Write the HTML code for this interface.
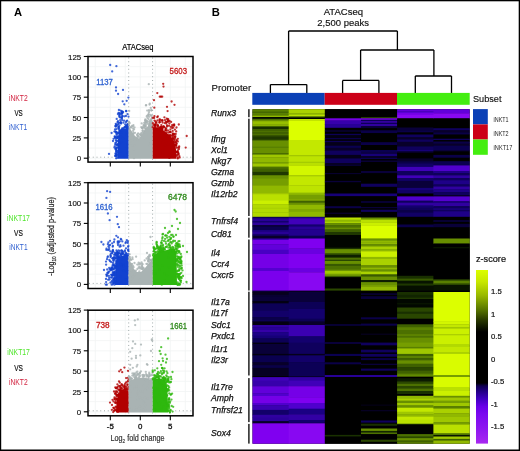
<!DOCTYPE html>
<html><head><meta charset="utf-8"><title>ATACseq figure</title>
<style>html,body{margin:0;padding:0;background:#fff;}svg{display:block;will-change:transform;}text{font-family:"Liberation Sans",sans-serif;}</style>
</head><body>
<svg width="520" height="451" viewBox="0 0 520 451" font-family="Liberation Sans, sans-serif">
<rect x="0" y="0" width="520" height="451" fill="#fff"/>
<text x="14.1" y="16.4" font-size="11.20" fill="#000" font-weight="bold" >A</text>
<text x="122.2" y="49.6" font-size="8.70" fill="#000" textLength="31.2" lengthAdjust="spacingAndGlyphs" stroke="#000" stroke-width="0.2">ATACseq</text>
<g stroke="#f1f4f4" stroke-width="0.8">
<line x1="95.3" y1="56.5" x2="95.3" y2="162.1"/>
<line x1="110.3" y1="56.5" x2="110.3" y2="162.1"/>
<line x1="125.3" y1="56.5" x2="125.3" y2="162.1"/>
<line x1="140.3" y1="56.5" x2="140.3" y2="162.1"/>
<line x1="155.3" y1="56.5" x2="155.3" y2="162.1"/>
<line x1="170.3" y1="56.5" x2="170.3" y2="162.1"/>
<line x1="185.3" y1="56.5" x2="185.3" y2="162.1"/>
<line x1="88.0" y1="158.2" x2="193.0" y2="158.2"/>
<line x1="88.0" y1="148.0" x2="193.0" y2="148.0"/>
<line x1="88.0" y1="137.9" x2="193.0" y2="137.9"/>
<line x1="88.0" y1="127.7" x2="193.0" y2="127.7"/>
<line x1="88.0" y1="117.5" x2="193.0" y2="117.5"/>
<line x1="88.0" y1="107.3" x2="193.0" y2="107.3"/>
<line x1="88.0" y1="97.2" x2="193.0" y2="97.2"/>
<line x1="88.0" y1="87.0" x2="193.0" y2="87.0"/>
<line x1="88.0" y1="76.8" x2="193.0" y2="76.8"/>
<line x1="88.0" y1="66.7" x2="193.0" y2="66.7"/>
<line x1="88.0" y1="56.5" x2="193.0" y2="56.5"/>
</g>
<g stroke="#a0aaaa" stroke-width="1.0" stroke-dasharray="1.0 2.75">
<line x1="128.7" y1="57.5" x2="128.7" y2="161.1"/>
<line x1="152.6" y1="57.5" x2="152.6" y2="161.1"/>
<line x1="89.0" y1="157.2" x2="192.0" y2="157.2"/>
</g>
<polygon points="118.0,158.7 118.0,140.0 118.7,130.0 121.0,129.0 124.0,128.5 128.7,128.0 128.7,158.7" fill="#1242d0"/>
<g fill="#1242d0" fill-opacity="0.80">
<circle cx="127.0" cy="147.6" r="1.15"/>
<circle cx="117.9" cy="144.4" r="1.15"/>
<circle cx="127.2" cy="153.1" r="1.15"/>
<circle cx="116.4" cy="155.9" r="1.15"/>
<circle cx="113.6" cy="138.8" r="1.15"/>
<circle cx="115.3" cy="126.1" r="1.15"/>
<circle cx="117.3" cy="152.6" r="1.15"/>
<circle cx="124.1" cy="157.0" r="1.15"/>
<circle cx="126.8" cy="127.9" r="1.15"/>
<circle cx="118.1" cy="136.8" r="1.15"/>
<circle cx="117.3" cy="137.1" r="1.15"/>
<circle cx="118.0" cy="147.2" r="1.15"/>
<circle cx="116.8" cy="150.4" r="1.15"/>
<circle cx="120.9" cy="136.2" r="1.15"/>
<circle cx="114.4" cy="147.6" r="1.15"/>
<circle cx="114.4" cy="131.6" r="1.15"/>
<circle cx="127.1" cy="126.8" r="1.15"/>
<circle cx="124.7" cy="127.3" r="1.15"/>
<circle cx="116.1" cy="150.9" r="1.15"/>
<circle cx="116.2" cy="148.3" r="1.15"/>
<circle cx="127.2" cy="144.7" r="1.15"/>
<circle cx="116.9" cy="150.7" r="1.15"/>
<circle cx="126.1" cy="125.9" r="1.15"/>
<circle cx="120.2" cy="122.8" r="1.15"/>
<circle cx="117.4" cy="138.0" r="1.15"/>
<circle cx="127.8" cy="127.5" r="1.15"/>
<circle cx="120.9" cy="142.1" r="1.15"/>
<circle cx="117.5" cy="144.5" r="1.15"/>
<circle cx="122.7" cy="128.4" r="1.15"/>
<circle cx="123.6" cy="128.1" r="1.15"/>
<circle cx="116.3" cy="144.6" r="1.15"/>
<circle cx="116.2" cy="154.8" r="1.15"/>
<circle cx="123.0" cy="138.4" r="1.15"/>
<circle cx="126.7" cy="127.9" r="1.15"/>
<circle cx="127.9" cy="124.9" r="1.15"/>
<circle cx="118.3" cy="132.7" r="1.15"/>
<circle cx="127.7" cy="127.9" r="1.15"/>
<circle cx="116.5" cy="129.1" r="1.15"/>
<circle cx="126.3" cy="126.5" r="1.15"/>
<circle cx="121.5" cy="132.4" r="1.15"/>
<circle cx="115.7" cy="149.4" r="1.15"/>
<circle cx="121.9" cy="128.7" r="1.15"/>
<circle cx="115.4" cy="143.0" r="1.15"/>
<circle cx="117.7" cy="145.0" r="1.15"/>
<circle cx="126.9" cy="135.2" r="1.15"/>
<circle cx="115.5" cy="131.3" r="1.15"/>
<circle cx="121.0" cy="151.9" r="1.15"/>
<circle cx="117.3" cy="157.9" r="1.15"/>
<circle cx="116.6" cy="153.6" r="1.15"/>
<circle cx="119.9" cy="132.1" r="1.15"/>
<circle cx="126.4" cy="132.2" r="1.15"/>
<circle cx="118.9" cy="144.0" r="1.15"/>
<circle cx="115.5" cy="137.7" r="1.15"/>
<circle cx="116.4" cy="136.3" r="1.15"/>
<circle cx="118.5" cy="128.6" r="1.15"/>
<circle cx="119.5" cy="130.9" r="1.15"/>
<circle cx="115.2" cy="144.5" r="1.15"/>
<circle cx="116.4" cy="132.2" r="1.15"/>
<circle cx="118.2" cy="133.2" r="1.15"/>
<circle cx="117.9" cy="141.0" r="1.15"/>
<circle cx="125.2" cy="124.4" r="1.15"/>
<circle cx="119.5" cy="114.1" r="1.15"/>
<circle cx="121.5" cy="112.8" r="1.15"/>
<circle cx="124.1" cy="120.7" r="1.15"/>
<circle cx="118.0" cy="121.2" r="1.15"/>
<circle cx="117.5" cy="133.3" r="1.15"/>
<circle cx="115.9" cy="126.7" r="1.15"/>
<circle cx="122.4" cy="116.1" r="1.15"/>
<circle cx="122.2" cy="120.2" r="1.15"/>
<circle cx="126.0" cy="115.9" r="1.15"/>
<circle cx="122.3" cy="113.3" r="1.15"/>
<circle cx="117.8" cy="152.0" r="1.15"/>
<circle cx="122.0" cy="117.7" r="1.15"/>
<circle cx="116.3" cy="142.4" r="1.15"/>
<circle cx="116.8" cy="144.9" r="1.15"/>
<circle cx="120.7" cy="122.7" r="1.15"/>
<circle cx="128.5" cy="116.6" r="1.15"/>
<circle cx="115.0" cy="129.5" r="1.15"/>
<circle cx="121.1" cy="123.6" r="1.15"/>
<circle cx="115.8" cy="123.9" r="1.15"/>
<circle cx="121.0" cy="122.5" r="1.15"/>
<circle cx="115.5" cy="148.8" r="1.15"/>
<circle cx="127.2" cy="120.6" r="1.15"/>
<circle cx="119.5" cy="115.2" r="1.15"/>
<circle cx="116.4" cy="133.8" r="1.15"/>
<circle cx="117.9" cy="124.8" r="1.15"/>
<circle cx="116.5" cy="132.3" r="1.15"/>
<circle cx="115.5" cy="153.5" r="1.15"/>
<circle cx="115.6" cy="155.9" r="1.15"/>
<circle cx="127.7" cy="123.8" r="1.15"/>
<circle cx="116.7" cy="118.9" r="1.15"/>
<circle cx="117.9" cy="114.1" r="1.15"/>
<circle cx="126.2" cy="111.2" r="1.15"/>
<circle cx="126.5" cy="126.5" r="1.15"/>
<circle cx="117.2" cy="138.1" r="1.15"/>
<circle cx="114.7" cy="146.3" r="1.15"/>
<circle cx="119.5" cy="117.1" r="1.15"/>
<circle cx="120.4" cy="117.4" r="1.15"/>
<circle cx="121.9" cy="113.5" r="1.15"/>
<circle cx="118.4" cy="123.7" r="1.15"/>
<circle cx="124.8" cy="126.8" r="1.15"/>
<circle cx="127.9" cy="124.3" r="1.15"/>
<circle cx="119.5" cy="125.4" r="1.15"/>
<circle cx="114.7" cy="136.5" r="1.15"/>
<circle cx="126.4" cy="125.9" r="1.15"/>
<circle cx="116.2" cy="155.6" r="1.15"/>
<circle cx="125.9" cy="122.2" r="1.15"/>
<circle cx="116.1" cy="149.0" r="1.15"/>
<circle cx="116.1" cy="152.0" r="1.15"/>
<circle cx="119.3" cy="113.1" r="1.15"/>
<circle cx="120.2" cy="120.2" r="1.15"/>
<circle cx="115.1" cy="138.0" r="1.15"/>
<circle cx="118.5" cy="113.0" r="1.15"/>
<circle cx="117.5" cy="122.2" r="1.15"/>
<circle cx="118.4" cy="126.8" r="1.15"/>
<circle cx="119.3" cy="116.0" r="1.15"/>
<circle cx="121.5" cy="114.6" r="1.15"/>
<circle cx="115.9" cy="132.3" r="1.15"/>
<circle cx="122.6" cy="116.2" r="1.15"/>
<circle cx="124.6" cy="116.3" r="1.15"/>
<circle cx="119.0" cy="127.1" r="1.15"/>
<circle cx="127.5" cy="114.1" r="1.15"/>
<circle cx="116.1" cy="158.3" r="1.15"/>
<circle cx="117.9" cy="136.5" r="1.15"/>
<circle cx="117.7" cy="156.5" r="1.15"/>
<circle cx="121.6" cy="117.4" r="1.15"/>
<circle cx="114.9" cy="136.9" r="1.15"/>
<circle cx="118.5" cy="127.5" r="1.15"/>
<circle cx="126.6" cy="121.1" r="1.15"/>
<circle cx="128.4" cy="125.8" r="1.15"/>
<circle cx="115.1" cy="155.9" r="1.15"/>
<circle cx="116.2" cy="124.7" r="1.15"/>
<circle cx="117.0" cy="147.9" r="1.15"/>
<circle cx="117.1" cy="154.4" r="1.15"/>
<circle cx="121.8" cy="111.2" r="1.15"/>
<circle cx="123.4" cy="122.7" r="1.15"/>
<circle cx="117.2" cy="154.8" r="1.15"/>
<circle cx="116.8" cy="138.3" r="1.15"/>
<circle cx="115.8" cy="125.9" r="1.15"/>
<circle cx="123.1" cy="112.0" r="1.15"/>
<circle cx="121.8" cy="118.7" r="1.15"/>
<circle cx="116.7" cy="125.4" r="1.15"/>
<circle cx="120.3" cy="113.6" r="1.15"/>
<circle cx="122.6" cy="112.3" r="1.15"/>
<circle cx="118.6" cy="122.8" r="1.15"/>
<circle cx="119.0" cy="129.0" r="1.15"/>
<circle cx="116.3" cy="147.4" r="1.15"/>
<circle cx="124.9" cy="127.3" r="1.15"/>
<circle cx="115.9" cy="140.2" r="1.15"/>
<circle cx="120.4" cy="122.5" r="1.15"/>
<circle cx="122.0" cy="111.8" r="1.15"/>
<circle cx="116.6" cy="141.0" r="1.15"/>
<circle cx="115.7" cy="154.2" r="1.15"/>
<circle cx="116.8" cy="134.7" r="1.15"/>
<circle cx="127.0" cy="125.0" r="1.15"/>
<circle cx="110.2" cy="65.0" r="1.15"/>
<circle cx="116.4" cy="66.2" r="1.15"/>
<circle cx="112.2" cy="71.4" r="1.15"/>
<circle cx="116.0" cy="87.4" r="1.15"/>
<circle cx="116.0" cy="90.7" r="1.15"/>
<circle cx="123.0" cy="89.9" r="1.15"/>
<circle cx="118.1" cy="94.0" r="1.15"/>
<circle cx="128.4" cy="97.6" r="1.15"/>
<circle cx="122.7" cy="101.3" r="1.15"/>
<circle cx="126.7" cy="100.8" r="1.15"/>
<circle cx="124.3" cy="104.3" r="1.15"/>
<circle cx="118.9" cy="110.0" r="1.15"/>
<circle cx="120.5" cy="110.6" r="1.15"/>
<circle cx="126.2" cy="111.0" r="1.15"/>
<circle cx="109.0" cy="153.9" r="1.15"/>
<circle cx="111.6" cy="133.0" r="1.15"/>
<circle cx="113.0" cy="141.0" r="1.15"/>
</g>
<polygon points="128.7,158.7 128.7,126.5 131.0,130.0 133.0,133.3 135.0,136.0 137.0,137.3 139.0,138.6 141.0,136.0 143.0,133.3 145.0,128.0 147.7,126.5 150.4,118.5 152.4,115.8 152.7,158.7" fill="#a9b3b3"/>
<g fill="#a9b3b3" fill-opacity="0.80">
<circle cx="144.9" cy="132.9" r="1.15"/>
<circle cx="145.6" cy="121.1" r="1.15"/>
<circle cx="149.8" cy="145.6" r="1.15"/>
<circle cx="131.3" cy="143.8" r="1.15"/>
<circle cx="148.9" cy="112.6" r="1.15"/>
<circle cx="148.5" cy="119.1" r="1.15"/>
<circle cx="143.4" cy="132.8" r="1.15"/>
<circle cx="135.0" cy="132.8" r="1.15"/>
<circle cx="150.5" cy="143.3" r="1.15"/>
<circle cx="134.1" cy="129.3" r="1.15"/>
<circle cx="133.3" cy="139.1" r="1.15"/>
<circle cx="144.9" cy="138.1" r="1.15"/>
<circle cx="142.4" cy="128.6" r="1.15"/>
<circle cx="144.8" cy="126.2" r="1.15"/>
<circle cx="145.6" cy="126.4" r="1.15"/>
<circle cx="144.3" cy="127.4" r="1.15"/>
<circle cx="130.7" cy="140.2" r="1.15"/>
<circle cx="147.5" cy="117.9" r="1.15"/>
<circle cx="134.0" cy="149.4" r="1.15"/>
<circle cx="130.3" cy="127.4" r="1.15"/>
<circle cx="151.0" cy="142.3" r="1.15"/>
<circle cx="139.2" cy="137.1" r="1.15"/>
<circle cx="132.5" cy="145.8" r="1.15"/>
<circle cx="141.0" cy="135.6" r="1.15"/>
<circle cx="131.9" cy="125.8" r="1.15"/>
<circle cx="141.3" cy="127.2" r="1.15"/>
<circle cx="134.0" cy="158.2" r="1.15"/>
<circle cx="147.0" cy="120.8" r="1.15"/>
<circle cx="151.2" cy="115.8" r="1.15"/>
<circle cx="133.4" cy="125.2" r="1.15"/>
<circle cx="142.5" cy="130.8" r="1.15"/>
<circle cx="137.0" cy="134.9" r="1.15"/>
<circle cx="148.5" cy="114.2" r="1.15"/>
<circle cx="144.6" cy="127.9" r="1.15"/>
<circle cx="138.0" cy="136.0" r="1.15"/>
<circle cx="137.2" cy="139.7" r="1.15"/>
<circle cx="141.7" cy="123.4" r="1.15"/>
<circle cx="143.1" cy="131.6" r="1.15"/>
<circle cx="134.5" cy="127.4" r="1.15"/>
<circle cx="134.3" cy="145.2" r="1.15"/>
<circle cx="129.1" cy="122.4" r="1.15"/>
<circle cx="131.5" cy="127.4" r="1.15"/>
<circle cx="150.6" cy="115.0" r="1.15"/>
<circle cx="142.9" cy="130.3" r="1.15"/>
<circle cx="129.0" cy="125.3" r="1.15"/>
<circle cx="149.1" cy="116.8" r="1.15"/>
<circle cx="138.2" cy="133.3" r="1.15"/>
<circle cx="151.6" cy="115.6" r="1.15"/>
<circle cx="148.2" cy="115.5" r="1.15"/>
<circle cx="149.0" cy="110.1" r="1.15"/>
<circle cx="141.5" cy="132.8" r="1.15"/>
<circle cx="142.1" cy="127.9" r="1.15"/>
<circle cx="146.7" cy="116.3" r="1.15"/>
<circle cx="151.3" cy="110.5" r="1.15"/>
<circle cx="137.8" cy="136.1" r="1.15"/>
<circle cx="145.7" cy="120.2" r="1.15"/>
<circle cx="128.9" cy="123.7" r="1.15"/>
<circle cx="143.8" cy="125.7" r="1.15"/>
<circle cx="143.0" cy="127.2" r="1.15"/>
<circle cx="145.3" cy="122.2" r="1.15"/>
<circle cx="137.7" cy="134.1" r="1.15"/>
<circle cx="140.4" cy="134.7" r="1.15"/>
<circle cx="141.7" cy="134.9" r="1.15"/>
<circle cx="146.0" cy="124.3" r="1.15"/>
<circle cx="140.6" cy="134.5" r="1.15"/>
<circle cx="145.1" cy="120.6" r="1.15"/>
<circle cx="144.5" cy="125.5" r="1.15"/>
<circle cx="148.9" cy="114.8" r="1.15"/>
<circle cx="133.5" cy="133.8" r="1.15"/>
<circle cx="133.4" cy="132.9" r="1.15"/>
<circle cx="146.5" cy="121.7" r="1.15"/>
<circle cx="145.7" cy="125.9" r="1.15"/>
<circle cx="149.1" cy="111.1" r="1.15"/>
<circle cx="144.7" cy="124.0" r="1.15"/>
<circle cx="146.7" cy="121.7" r="1.15"/>
<circle cx="149.7" cy="120.6" r="1.15"/>
<circle cx="142.3" cy="133.5" r="1.15"/>
<circle cx="147.3" cy="115.7" r="1.15"/>
<circle cx="133.1" cy="128.7" r="1.15"/>
<circle cx="149.0" cy="121.8" r="1.15"/>
<circle cx="142.2" cy="128.0" r="1.15"/>
<circle cx="145.3" cy="119.4" r="1.15"/>
<circle cx="137.5" cy="137.2" r="1.15"/>
<circle cx="148.0" cy="123.9" r="1.15"/>
<circle cx="143.6" cy="125.1" r="1.15"/>
<circle cx="140.1" cy="134.5" r="1.15"/>
<circle cx="129.6" cy="123.2" r="1.15"/>
<circle cx="129.0" cy="122.0" r="1.15"/>
<circle cx="133.1" cy="131.0" r="1.15"/>
<circle cx="133.0" cy="126.3" r="1.15"/>
<circle cx="146.0" cy="122.8" r="1.15"/>
<circle cx="130.7" cy="127.3" r="1.15"/>
<circle cx="147.1" cy="122.3" r="1.15"/>
<circle cx="151.4" cy="110.0" r="1.15"/>
<circle cx="144.2" cy="122.8" r="1.15"/>
<circle cx="148.8" cy="84.2" r="1.15"/>
<circle cx="149.5" cy="104.6" r="1.15"/>
<circle cx="145.9" cy="105.4" r="1.15"/>
<circle cx="147.2" cy="110.6" r="1.15"/>
<circle cx="129.2" cy="111.0" r="1.15"/>
<circle cx="150.8" cy="107.9" r="1.15"/>
<circle cx="146.2" cy="105.1" r="1.15"/>
<circle cx="149.8" cy="103.7" r="1.15"/>
</g>
<polygon points="152.7,158.7 152.7,128.0 158.4,128.0 163.8,130.6 170.6,136.0 174.6,142.0 176.0,150.0 176.5,158.7" fill="#b20000"/>
<g fill="#b20000" fill-opacity="0.80">
<circle cx="170.7" cy="132.2" r="1.15"/>
<circle cx="173.6" cy="138.7" r="1.15"/>
<circle cx="171.5" cy="153.8" r="1.15"/>
<circle cx="175.4" cy="145.0" r="1.15"/>
<circle cx="163.3" cy="156.3" r="1.15"/>
<circle cx="177.8" cy="158.4" r="1.15"/>
<circle cx="172.8" cy="133.5" r="1.15"/>
<circle cx="162.5" cy="120.8" r="1.15"/>
<circle cx="165.7" cy="130.6" r="1.15"/>
<circle cx="175.8" cy="142.4" r="1.15"/>
<circle cx="175.7" cy="145.2" r="1.15"/>
<circle cx="158.1" cy="126.0" r="1.15"/>
<circle cx="176.6" cy="152.0" r="1.15"/>
<circle cx="161.8" cy="130.5" r="1.15"/>
<circle cx="162.6" cy="150.7" r="1.15"/>
<circle cx="160.4" cy="128.2" r="1.15"/>
<circle cx="161.3" cy="129.4" r="1.15"/>
<circle cx="164.0" cy="134.4" r="1.15"/>
<circle cx="162.2" cy="152.4" r="1.15"/>
<circle cx="159.8" cy="129.2" r="1.15"/>
<circle cx="160.0" cy="138.0" r="1.15"/>
<circle cx="177.0" cy="154.8" r="1.15"/>
<circle cx="155.3" cy="124.9" r="1.15"/>
<circle cx="157.5" cy="120.4" r="1.15"/>
<circle cx="179.2" cy="146.5" r="1.15"/>
<circle cx="152.7" cy="127.2" r="1.15"/>
<circle cx="175.0" cy="136.9" r="1.15"/>
<circle cx="161.9" cy="130.9" r="1.15"/>
<circle cx="172.8" cy="138.8" r="1.15"/>
<circle cx="176.3" cy="152.1" r="1.15"/>
<circle cx="167.1" cy="126.4" r="1.15"/>
<circle cx="176.6" cy="143.6" r="1.15"/>
<circle cx="159.6" cy="138.0" r="1.15"/>
<circle cx="179.7" cy="157.5" r="1.15"/>
<circle cx="176.3" cy="145.6" r="1.15"/>
<circle cx="153.9" cy="127.6" r="1.15"/>
<circle cx="172.8" cy="138.5" r="1.15"/>
<circle cx="169.5" cy="138.0" r="1.15"/>
<circle cx="165.1" cy="145.4" r="1.15"/>
<circle cx="166.7" cy="132.3" r="1.15"/>
<circle cx="162.8" cy="152.7" r="1.15"/>
<circle cx="156.8" cy="145.6" r="1.15"/>
<circle cx="174.3" cy="140.3" r="1.15"/>
<circle cx="159.7" cy="127.4" r="1.15"/>
<circle cx="161.3" cy="125.1" r="1.15"/>
<circle cx="172.9" cy="134.2" r="1.15"/>
<circle cx="168.2" cy="144.6" r="1.15"/>
<circle cx="174.1" cy="124.5" r="1.15"/>
<circle cx="179.3" cy="156.1" r="1.15"/>
<circle cx="177.8" cy="141.5" r="1.15"/>
<circle cx="176.0" cy="142.1" r="1.15"/>
<circle cx="175.7" cy="133.9" r="1.15"/>
<circle cx="158.7" cy="127.9" r="1.15"/>
<circle cx="170.0" cy="156.0" r="1.15"/>
<circle cx="176.7" cy="140.6" r="1.15"/>
<circle cx="162.2" cy="142.8" r="1.15"/>
<circle cx="174.8" cy="149.4" r="1.15"/>
<circle cx="167.5" cy="138.6" r="1.15"/>
<circle cx="168.9" cy="136.2" r="1.15"/>
<circle cx="158.0" cy="125.5" r="1.15"/>
<circle cx="176.3" cy="147.7" r="1.15"/>
<circle cx="178.9" cy="149.1" r="1.15"/>
<circle cx="176.5" cy="140.1" r="1.15"/>
<circle cx="172.2" cy="138.3" r="1.15"/>
<circle cx="162.2" cy="129.3" r="1.15"/>
<circle cx="170.6" cy="135.2" r="1.15"/>
<circle cx="157.3" cy="127.2" r="1.15"/>
<circle cx="172.3" cy="136.3" r="1.15"/>
<circle cx="161.6" cy="120.5" r="1.15"/>
<circle cx="179.0" cy="147.5" r="1.15"/>
<circle cx="169.3" cy="157.9" r="1.15"/>
<circle cx="174.7" cy="141.9" r="1.15"/>
<circle cx="175.8" cy="145.7" r="1.15"/>
<circle cx="162.2" cy="154.3" r="1.15"/>
<circle cx="163.5" cy="126.4" r="1.15"/>
<circle cx="162.4" cy="128.5" r="1.15"/>
<circle cx="166.1" cy="142.5" r="1.15"/>
<circle cx="178.6" cy="154.0" r="1.15"/>
<circle cx="163.4" cy="140.1" r="1.15"/>
<circle cx="178.1" cy="152.2" r="1.15"/>
<circle cx="174.3" cy="134.3" r="1.15"/>
<circle cx="157.3" cy="117.2" r="1.15"/>
<circle cx="174.9" cy="129.6" r="1.15"/>
<circle cx="155.1" cy="124.6" r="1.15"/>
<circle cx="167.6" cy="121.8" r="1.15"/>
<circle cx="178.4" cy="154.4" r="1.15"/>
<circle cx="177.6" cy="147.7" r="1.15"/>
<circle cx="172.4" cy="135.3" r="1.15"/>
<circle cx="156.4" cy="122.5" r="1.15"/>
<circle cx="164.4" cy="127.2" r="1.15"/>
<circle cx="169.4" cy="123.5" r="1.15"/>
<circle cx="169.4" cy="135.0" r="1.15"/>
<circle cx="176.8" cy="152.1" r="1.15"/>
<circle cx="168.6" cy="132.6" r="1.15"/>
<circle cx="174.0" cy="125.7" r="1.15"/>
<circle cx="170.8" cy="126.9" r="1.15"/>
<circle cx="155.2" cy="127.9" r="1.15"/>
<circle cx="172.3" cy="124.8" r="1.15"/>
<circle cx="154.5" cy="120.6" r="1.15"/>
<circle cx="173.9" cy="136.3" r="1.15"/>
<circle cx="152.8" cy="117.8" r="1.15"/>
<circle cx="165.0" cy="120.1" r="1.15"/>
<circle cx="169.0" cy="125.8" r="1.15"/>
<circle cx="166.2" cy="123.5" r="1.15"/>
<circle cx="169.6" cy="120.9" r="1.15"/>
<circle cx="152.9" cy="123.2" r="1.15"/>
<circle cx="162.4" cy="126.8" r="1.15"/>
<circle cx="160.3" cy="128.1" r="1.15"/>
<circle cx="178.2" cy="153.0" r="1.15"/>
<circle cx="157.8" cy="116.3" r="1.15"/>
<circle cx="167.5" cy="119.4" r="1.15"/>
<circle cx="176.8" cy="155.9" r="1.15"/>
<circle cx="163.7" cy="127.1" r="1.15"/>
<circle cx="168.7" cy="121.2" r="1.15"/>
<circle cx="165.6" cy="128.3" r="1.15"/>
<circle cx="170.6" cy="135.8" r="1.15"/>
<circle cx="159.5" cy="121.1" r="1.15"/>
<circle cx="174.5" cy="139.4" r="1.15"/>
<circle cx="159.5" cy="119.5" r="1.15"/>
<circle cx="154.8" cy="125.8" r="1.15"/>
<circle cx="154.4" cy="116.2" r="1.15"/>
<circle cx="174.1" cy="133.9" r="1.15"/>
<circle cx="153.5" cy="124.9" r="1.15"/>
<circle cx="161.7" cy="128.2" r="1.15"/>
<circle cx="167.1" cy="125.5" r="1.15"/>
<circle cx="172.7" cy="130.9" r="1.15"/>
<circle cx="165.9" cy="130.2" r="1.15"/>
<circle cx="154.7" cy="124.6" r="1.15"/>
<circle cx="154.1" cy="118.0" r="1.15"/>
<circle cx="173.2" cy="134.9" r="1.15"/>
<circle cx="169.8" cy="131.7" r="1.15"/>
<circle cx="165.8" cy="121.8" r="1.15"/>
<circle cx="161.3" cy="127.3" r="1.15"/>
<circle cx="166.7" cy="118.6" r="1.15"/>
<circle cx="155.1" cy="126.2" r="1.15"/>
<circle cx="160.1" cy="119.7" r="1.15"/>
<circle cx="155.7" cy="125.4" r="1.15"/>
<circle cx="168.2" cy="119.2" r="1.15"/>
<circle cx="170.4" cy="129.3" r="1.15"/>
<circle cx="175.4" cy="136.2" r="1.15"/>
<circle cx="167.9" cy="130.4" r="1.15"/>
<circle cx="162.5" cy="122.6" r="1.15"/>
<circle cx="172.1" cy="128.1" r="1.15"/>
<circle cx="157.3" cy="124.7" r="1.15"/>
<circle cx="172.2" cy="126.1" r="1.15"/>
<circle cx="166.2" cy="128.4" r="1.15"/>
<circle cx="170.2" cy="132.1" r="1.15"/>
<circle cx="160.6" cy="127.5" r="1.15"/>
<circle cx="177.2" cy="152.0" r="1.15"/>
<circle cx="175.2" cy="137.9" r="1.15"/>
<circle cx="176.2" cy="131.4" r="1.15"/>
<circle cx="176.4" cy="144.0" r="1.15"/>
<circle cx="159.3" cy="122.6" r="1.15"/>
<circle cx="155.5" cy="127.9" r="1.15"/>
<circle cx="176.8" cy="152.0" r="1.15"/>
<circle cx="171.1" cy="121.9" r="1.15"/>
<circle cx="161.1" cy="126.9" r="1.15"/>
<circle cx="163.6" cy="126.3" r="1.15"/>
<circle cx="162.4" cy="120.1" r="1.15"/>
<circle cx="164.6" cy="123.1" r="1.15"/>
<circle cx="160.9" cy="127.2" r="1.15"/>
<circle cx="159.9" cy="122.2" r="1.15"/>
<circle cx="155.8" cy="123.0" r="1.15"/>
<circle cx="173.2" cy="127.7" r="1.15"/>
<circle cx="177.8" cy="157.7" r="1.15"/>
<circle cx="173.1" cy="138.1" r="1.15"/>
<circle cx="168.1" cy="121.4" r="1.15"/>
<circle cx="162.3" cy="129.2" r="1.15"/>
<circle cx="166.4" cy="122.1" r="1.15"/>
<circle cx="174.2" cy="125.2" r="1.15"/>
<circle cx="167.8" cy="120.7" r="1.15"/>
<circle cx="155.6" cy="121.5" r="1.15"/>
<circle cx="177.8" cy="138.8" r="1.15"/>
<circle cx="177.8" cy="150.5" r="1.15"/>
<circle cx="165.4" cy="129.9" r="1.15"/>
<circle cx="163.2" cy="83.8" r="1.15"/>
<circle cx="163.5" cy="86.6" r="1.15"/>
<circle cx="157.3" cy="93.1" r="1.15"/>
<circle cx="159.8" cy="96.7" r="1.15"/>
<circle cx="161.0" cy="96.7" r="1.15"/>
<circle cx="162.2" cy="96.7" r="1.15"/>
<circle cx="154.0" cy="100.2" r="1.15"/>
<circle cx="171.6" cy="101.5" r="1.15"/>
<circle cx="174.5" cy="104.8" r="1.15"/>
<circle cx="167.0" cy="106.8" r="1.15"/>
<circle cx="154.3" cy="107.7" r="1.15"/>
<circle cx="167.6" cy="111.1" r="1.15"/>
<circle cx="186.7" cy="136.0" r="1.15"/>
<circle cx="185.7" cy="147.6" r="1.15"/>
<circle cx="178.8" cy="124.5" r="1.15"/>
<circle cx="176.5" cy="127.5" r="1.15"/>
<circle cx="164.4" cy="117.3" r="1.15"/>
</g>
<rect x="88.0" y="56.5" width="105.0" height="105.6" fill="none" stroke="#000" stroke-width="1.5"/>
<g stroke="#000" stroke-width="1.1">
<line x1="83.8" y1="158.2" x2="88" y2="158.2"/>
<line x1="83.8" y1="137.9" x2="88" y2="137.9"/>
<line x1="83.8" y1="117.5" x2="88" y2="117.5"/>
<line x1="83.8" y1="97.2" x2="88" y2="97.2"/>
<line x1="83.8" y1="76.8" x2="88" y2="76.8"/>
<line x1="83.8" y1="56.5" x2="88" y2="56.5"/>
<line x1="110.3" y1="162.1" x2="110.3" y2="166.6"/>
<line x1="140.3" y1="162.1" x2="140.3" y2="166.6"/>
<line x1="170.3" y1="162.1" x2="170.3" y2="166.6"/>
</g>
<text x="81.2" y="161.2" font-size="7.90" fill="#111" text-anchor="end" stroke="#111" stroke-width="0.15">0</text>
<text x="81.2" y="140.9" font-size="7.90" fill="#111" text-anchor="end" stroke="#111" stroke-width="0.15">25</text>
<text x="81.2" y="120.5" font-size="7.90" fill="#111" text-anchor="end" stroke="#111" stroke-width="0.15">50</text>
<text x="81.2" y="100.2" font-size="7.90" fill="#111" text-anchor="end" stroke="#111" stroke-width="0.15">75</text>
<text x="81.2" y="79.8" font-size="7.90" fill="#111" text-anchor="end" stroke="#111" stroke-width="0.15">100</text>
<text x="81.2" y="59.5" font-size="7.90" fill="#111" text-anchor="end" stroke="#111" stroke-width="0.15">125</text>
<text x="96.3" y="84.5" font-size="8.30" fill="#2e62d0" textLength="16.6" lengthAdjust="spacingAndGlyphs" stroke="#2e62d0" stroke-width="0.3">1137</text>
<text x="169.6" y="74.4" font-size="8.30" fill="#c41a1a" textLength="17.4" lengthAdjust="spacingAndGlyphs" stroke="#c41a1a" stroke-width="0.3">5603</text>
<g stroke="#f1f4f4" stroke-width="0.8">
<line x1="95.3" y1="182.7" x2="95.3" y2="288.5"/>
<line x1="110.3" y1="182.7" x2="110.3" y2="288.5"/>
<line x1="125.3" y1="182.7" x2="125.3" y2="288.5"/>
<line x1="140.3" y1="182.7" x2="140.3" y2="288.5"/>
<line x1="155.3" y1="182.7" x2="155.3" y2="288.5"/>
<line x1="170.3" y1="182.7" x2="170.3" y2="288.5"/>
<line x1="185.3" y1="182.7" x2="185.3" y2="288.5"/>
<line x1="88.0" y1="284.4" x2="193.0" y2="284.4"/>
<line x1="88.0" y1="274.2" x2="193.0" y2="274.2"/>
<line x1="88.0" y1="264.1" x2="193.0" y2="264.1"/>
<line x1="88.0" y1="253.9" x2="193.0" y2="253.9"/>
<line x1="88.0" y1="243.7" x2="193.0" y2="243.7"/>
<line x1="88.0" y1="233.5" x2="193.0" y2="233.5"/>
<line x1="88.0" y1="223.4" x2="193.0" y2="223.4"/>
<line x1="88.0" y1="213.2" x2="193.0" y2="213.2"/>
<line x1="88.0" y1="203.0" x2="193.0" y2="203.0"/>
<line x1="88.0" y1="192.9" x2="193.0" y2="192.9"/>
<line x1="88.0" y1="182.7" x2="193.0" y2="182.7"/>
</g>
<g stroke="#a0aaaa" stroke-width="1.0" stroke-dasharray="1.0 2.75">
<line x1="128.7" y1="183.7" x2="128.7" y2="287.5"/>
<line x1="152.6" y1="183.7" x2="152.6" y2="287.5"/>
<line x1="89.0" y1="283.4" x2="192.0" y2="283.4"/>
</g>
<polygon points="115.0,285.0 115.6,262.0 117.0,257.5 121.0,256.0 125.0,255.0 128.7,254.5 128.7,285.0" fill="#1242d0"/>
<g fill="#1242d0" fill-opacity="0.80">
<circle cx="108.1" cy="279.8" r="1.15"/>
<circle cx="125.6" cy="280.0" r="1.15"/>
<circle cx="114.3" cy="279.1" r="1.15"/>
<circle cx="115.1" cy="278.7" r="1.15"/>
<circle cx="117.7" cy="256.6" r="1.15"/>
<circle cx="126.7" cy="271.5" r="1.15"/>
<circle cx="115.1" cy="281.1" r="1.15"/>
<circle cx="117.9" cy="256.9" r="1.15"/>
<circle cx="115.1" cy="273.6" r="1.15"/>
<circle cx="121.1" cy="255.5" r="1.15"/>
<circle cx="113.1" cy="275.1" r="1.15"/>
<circle cx="121.0" cy="263.7" r="1.15"/>
<circle cx="128.5" cy="254.2" r="1.15"/>
<circle cx="114.3" cy="272.6" r="1.15"/>
<circle cx="123.4" cy="264.3" r="1.15"/>
<circle cx="126.6" cy="267.7" r="1.15"/>
<circle cx="121.3" cy="265.3" r="1.15"/>
<circle cx="126.9" cy="254.0" r="1.15"/>
<circle cx="111.9" cy="277.6" r="1.15"/>
<circle cx="123.1" cy="270.7" r="1.15"/>
<circle cx="126.6" cy="279.8" r="1.15"/>
<circle cx="128.5" cy="251.2" r="1.15"/>
<circle cx="123.7" cy="265.3" r="1.15"/>
<circle cx="122.0" cy="259.6" r="1.15"/>
<circle cx="120.5" cy="264.4" r="1.15"/>
<circle cx="117.0" cy="252.7" r="1.15"/>
<circle cx="115.8" cy="258.1" r="1.15"/>
<circle cx="122.8" cy="253.4" r="1.15"/>
<circle cx="115.3" cy="265.7" r="1.15"/>
<circle cx="114.1" cy="265.6" r="1.15"/>
<circle cx="113.9" cy="273.5" r="1.15"/>
<circle cx="113.0" cy="273.3" r="1.15"/>
<circle cx="113.6" cy="257.7" r="1.15"/>
<circle cx="120.6" cy="276.4" r="1.15"/>
<circle cx="126.1" cy="254.7" r="1.15"/>
<circle cx="124.1" cy="258.6" r="1.15"/>
<circle cx="116.0" cy="261.1" r="1.15"/>
<circle cx="113.8" cy="283.1" r="1.15"/>
<circle cx="116.2" cy="265.4" r="1.15"/>
<circle cx="128.0" cy="250.1" r="1.15"/>
<circle cx="121.5" cy="282.7" r="1.15"/>
<circle cx="115.0" cy="265.9" r="1.15"/>
<circle cx="114.0" cy="283.1" r="1.15"/>
<circle cx="115.0" cy="281.5" r="1.15"/>
<circle cx="118.7" cy="256.8" r="1.15"/>
<circle cx="123.8" cy="266.6" r="1.15"/>
<circle cx="124.0" cy="270.8" r="1.15"/>
<circle cx="123.3" cy="253.7" r="1.15"/>
<circle cx="112.5" cy="265.3" r="1.15"/>
<circle cx="119.7" cy="256.2" r="1.15"/>
<circle cx="109.2" cy="267.8" r="1.15"/>
<circle cx="120.3" cy="245.1" r="1.15"/>
<circle cx="114.0" cy="280.2" r="1.15"/>
<circle cx="114.6" cy="284.6" r="1.15"/>
<circle cx="121.3" cy="239.6" r="1.15"/>
<circle cx="113.5" cy="274.7" r="1.15"/>
<circle cx="123.5" cy="245.7" r="1.15"/>
<circle cx="111.6" cy="281.9" r="1.15"/>
<circle cx="114.3" cy="279.1" r="1.15"/>
<circle cx="107.9" cy="244.2" r="1.15"/>
<circle cx="122.5" cy="253.9" r="1.15"/>
<circle cx="112.3" cy="251.3" r="1.15"/>
<circle cx="112.7" cy="272.2" r="1.15"/>
<circle cx="109.4" cy="245.6" r="1.15"/>
<circle cx="117.7" cy="241.7" r="1.15"/>
<circle cx="128.4" cy="245.9" r="1.15"/>
<circle cx="119.6" cy="246.7" r="1.15"/>
<circle cx="113.6" cy="269.4" r="1.15"/>
<circle cx="117.0" cy="254.6" r="1.15"/>
<circle cx="121.8" cy="253.5" r="1.15"/>
<circle cx="111.2" cy="262.0" r="1.15"/>
<circle cx="112.1" cy="275.2" r="1.15"/>
<circle cx="117.2" cy="252.7" r="1.15"/>
<circle cx="116.3" cy="257.7" r="1.15"/>
<circle cx="107.3" cy="272.9" r="1.15"/>
<circle cx="110.9" cy="277.4" r="1.15"/>
<circle cx="114.0" cy="279.1" r="1.15"/>
<circle cx="115.0" cy="252.7" r="1.15"/>
<circle cx="107.9" cy="256.4" r="1.15"/>
<circle cx="108.5" cy="246.4" r="1.15"/>
<circle cx="112.0" cy="267.8" r="1.15"/>
<circle cx="115.5" cy="263.3" r="1.15"/>
<circle cx="125.9" cy="242.1" r="1.15"/>
<circle cx="117.3" cy="251.5" r="1.15"/>
<circle cx="120.7" cy="246.3" r="1.15"/>
<circle cx="108.9" cy="275.9" r="1.15"/>
<circle cx="107.5" cy="257.3" r="1.15"/>
<circle cx="110.9" cy="270.0" r="1.15"/>
<circle cx="115.1" cy="275.0" r="1.15"/>
<circle cx="113.0" cy="258.3" r="1.15"/>
<circle cx="106.3" cy="274.7" r="1.15"/>
<circle cx="105.8" cy="284.6" r="1.15"/>
<circle cx="112.2" cy="252.7" r="1.15"/>
<circle cx="111.6" cy="284.5" r="1.15"/>
<circle cx="113.0" cy="269.0" r="1.15"/>
<circle cx="110.0" cy="261.2" r="1.15"/>
<circle cx="122.3" cy="241.4" r="1.15"/>
<circle cx="112.3" cy="276.0" r="1.15"/>
<circle cx="121.6" cy="252.5" r="1.15"/>
<circle cx="115.3" cy="254.0" r="1.15"/>
<circle cx="118.3" cy="241.4" r="1.15"/>
<circle cx="118.2" cy="253.3" r="1.15"/>
<circle cx="110.5" cy="257.1" r="1.15"/>
<circle cx="112.1" cy="258.3" r="1.15"/>
<circle cx="112.9" cy="249.9" r="1.15"/>
<circle cx="116.9" cy="255.6" r="1.15"/>
<circle cx="117.8" cy="243.1" r="1.15"/>
<circle cx="115.4" cy="268.0" r="1.15"/>
<circle cx="127.7" cy="242.9" r="1.15"/>
<circle cx="113.4" cy="283.2" r="1.15"/>
<circle cx="117.4" cy="254.1" r="1.15"/>
<circle cx="114.8" cy="278.0" r="1.15"/>
<circle cx="115.1" cy="267.1" r="1.15"/>
<circle cx="107.2" cy="269.5" r="1.15"/>
<circle cx="114.5" cy="268.7" r="1.15"/>
<circle cx="113.8" cy="272.9" r="1.15"/>
<circle cx="110.3" cy="251.3" r="1.15"/>
<circle cx="112.7" cy="246.7" r="1.15"/>
<circle cx="118.7" cy="250.5" r="1.15"/>
<circle cx="110.4" cy="255.2" r="1.15"/>
<circle cx="114.6" cy="258.7" r="1.15"/>
<circle cx="121.8" cy="250.6" r="1.15"/>
<circle cx="114.4" cy="257.0" r="1.15"/>
<circle cx="109.6" cy="269.1" r="1.15"/>
<circle cx="113.1" cy="282.2" r="1.15"/>
<circle cx="123.0" cy="251.9" r="1.15"/>
<circle cx="111.7" cy="274.6" r="1.15"/>
<circle cx="108.4" cy="242.3" r="1.15"/>
<circle cx="109.1" cy="248.1" r="1.15"/>
<circle cx="116.3" cy="258.7" r="1.15"/>
<circle cx="126.0" cy="252.9" r="1.15"/>
<circle cx="114.7" cy="275.4" r="1.15"/>
<circle cx="121.2" cy="254.7" r="1.15"/>
<circle cx="107.0" cy="275.0" r="1.15"/>
<circle cx="125.0" cy="255.0" r="1.15"/>
<circle cx="112.1" cy="280.8" r="1.15"/>
<circle cx="106.1" cy="264.7" r="1.15"/>
<circle cx="114.4" cy="278.8" r="1.15"/>
<circle cx="128.1" cy="246.8" r="1.15"/>
<circle cx="114.3" cy="259.7" r="1.15"/>
<circle cx="108.4" cy="271.8" r="1.15"/>
<circle cx="110.4" cy="282.7" r="1.15"/>
<circle cx="111.1" cy="274.8" r="1.15"/>
<circle cx="121.0" cy="254.4" r="1.15"/>
<circle cx="114.9" cy="282.5" r="1.15"/>
<circle cx="113.7" cy="275.4" r="1.15"/>
<circle cx="125.0" cy="250.4" r="1.15"/>
<circle cx="106.0" cy="261.6" r="1.15"/>
<circle cx="111.4" cy="268.8" r="1.15"/>
<circle cx="115.3" cy="255.0" r="1.15"/>
<circle cx="110.7" cy="269.8" r="1.15"/>
<circle cx="109.3" cy="271.5" r="1.15"/>
<circle cx="114.9" cy="277.0" r="1.15"/>
<circle cx="112.3" cy="253.3" r="1.15"/>
<circle cx="113.0" cy="263.0" r="1.15"/>
<circle cx="113.7" cy="257.8" r="1.15"/>
<circle cx="113.6" cy="281.0" r="1.15"/>
<circle cx="119.5" cy="252.8" r="1.15"/>
<circle cx="113.1" cy="259.9" r="1.15"/>
<circle cx="125.6" cy="254.4" r="1.15"/>
<circle cx="126.8" cy="240.2" r="1.15"/>
<circle cx="118.8" cy="242.6" r="1.15"/>
<circle cx="114.1" cy="254.8" r="1.15"/>
<circle cx="118.2" cy="255.0" r="1.15"/>
<circle cx="124.5" cy="254.9" r="1.15"/>
<circle cx="106.4" cy="249.9" r="1.15"/>
<circle cx="114.5" cy="267.7" r="1.15"/>
<circle cx="109.1" cy="277.9" r="1.15"/>
<circle cx="109.6" cy="279.6" r="1.15"/>
<circle cx="113.0" cy="250.7" r="1.15"/>
<circle cx="124.9" cy="251.7" r="1.15"/>
<circle cx="126.0" cy="248.3" r="1.15"/>
<circle cx="108.2" cy="273.2" r="1.15"/>
<circle cx="119.8" cy="241.3" r="1.15"/>
<circle cx="125.5" cy="243.1" r="1.15"/>
<circle cx="118.8" cy="253.6" r="1.15"/>
<circle cx="114.3" cy="271.8" r="1.15"/>
<circle cx="114.2" cy="274.9" r="1.15"/>
<circle cx="110.0" cy="240.8" r="1.15"/>
<circle cx="114.4" cy="239.5" r="1.15"/>
<circle cx="106.5" cy="248.7" r="1.15"/>
<circle cx="113.8" cy="265.0" r="1.15"/>
<circle cx="116.5" cy="250.4" r="1.15"/>
<circle cx="113.8" cy="278.1" r="1.15"/>
<circle cx="116.2" cy="256.1" r="1.15"/>
<circle cx="110.9" cy="253.8" r="1.15"/>
<circle cx="110.1" cy="244.8" r="1.15"/>
<circle cx="110.9" cy="256.1" r="1.15"/>
<circle cx="113.1" cy="251.6" r="1.15"/>
<circle cx="115.0" cy="281.5" r="1.15"/>
<circle cx="117.9" cy="256.5" r="1.15"/>
<circle cx="115.3" cy="271.3" r="1.15"/>
<circle cx="106.8" cy="276.2" r="1.15"/>
<circle cx="109.3" cy="259.9" r="1.15"/>
<circle cx="113.3" cy="265.0" r="1.15"/>
<circle cx="112.6" cy="267.0" r="1.15"/>
<circle cx="112.1" cy="270.0" r="1.15"/>
<circle cx="106.8" cy="284.7" r="1.15"/>
<circle cx="120.4" cy="253.8" r="1.15"/>
<circle cx="116.3" cy="235.8" r="1.15"/>
<circle cx="128.3" cy="249.4" r="1.15"/>
<circle cx="111.1" cy="268.8" r="1.15"/>
<circle cx="109.1" cy="249.8" r="1.15"/>
<circle cx="112.8" cy="279.3" r="1.15"/>
<circle cx="127.9" cy="241.5" r="1.15"/>
<circle cx="112.9" cy="245.8" r="1.15"/>
<circle cx="106.1" cy="282.1" r="1.15"/>
<circle cx="113.6" cy="261.0" r="1.15"/>
<circle cx="111.4" cy="267.7" r="1.15"/>
<circle cx="112.2" cy="243.3" r="1.15"/>
<circle cx="115.1" cy="272.8" r="1.15"/>
<circle cx="115.9" cy="253.7" r="1.15"/>
<circle cx="119.8" cy="251.1" r="1.15"/>
<circle cx="122.5" cy="251.2" r="1.15"/>
<circle cx="117.7" cy="252.5" r="1.15"/>
<circle cx="118.0" cy="237.3" r="1.15"/>
<circle cx="112.8" cy="284.4" r="1.15"/>
<circle cx="118.2" cy="252.8" r="1.15"/>
<circle cx="107.0" cy="259.2" r="1.15"/>
<circle cx="121.4" cy="250.3" r="1.15"/>
<circle cx="107.1" cy="191.2" r="1.15"/>
<circle cx="110.1" cy="191.9" r="1.15"/>
<circle cx="106.4" cy="197.9" r="1.15"/>
<circle cx="107.9" cy="213.5" r="1.15"/>
<circle cx="109.6" cy="220.2" r="1.15"/>
<circle cx="117.0" cy="216.8" r="1.15"/>
<circle cx="117.8" cy="224.2" r="1.15"/>
<circle cx="119.0" cy="227.2" r="1.15"/>
<circle cx="120.8" cy="239.0" r="1.15"/>
<circle cx="101.4" cy="242.0" r="1.15"/>
<circle cx="103.4" cy="244.5" r="1.15"/>
<circle cx="118.0" cy="245.0" r="1.15"/>
<circle cx="114.0" cy="242.0" r="1.15"/>
<circle cx="108.0" cy="250.0" r="1.15"/>
<circle cx="104.0" cy="270.0" r="1.15"/>
<circle cx="106.0" cy="279.0" r="1.15"/>
</g>
<polygon points="128.7,285.0 128.7,257.0 131.0,263.0 134.0,269.0 137.0,272.0 141.0,272.0 145.0,268.0 149.0,263.0 152.7,259.0 152.7,285.0" fill="#a9b3b3"/>
<g fill="#a9b3b3" fill-opacity="0.80">
<circle cx="151.5" cy="272.4" r="1.15"/>
<circle cx="130.9" cy="279.2" r="1.15"/>
<circle cx="132.8" cy="277.4" r="1.15"/>
<circle cx="142.1" cy="282.1" r="1.15"/>
<circle cx="132.4" cy="257.5" r="1.15"/>
<circle cx="152.5" cy="272.8" r="1.15"/>
<circle cx="142.6" cy="268.3" r="1.15"/>
<circle cx="148.4" cy="258.9" r="1.15"/>
<circle cx="152.5" cy="259.1" r="1.15"/>
<circle cx="128.9" cy="260.4" r="1.15"/>
<circle cx="129.7" cy="257.1" r="1.15"/>
<circle cx="135.9" cy="270.7" r="1.15"/>
<circle cx="139.3" cy="271.4" r="1.15"/>
<circle cx="148.3" cy="261.1" r="1.15"/>
<circle cx="129.0" cy="275.3" r="1.15"/>
<circle cx="137.4" cy="269.0" r="1.15"/>
<circle cx="131.8" cy="264.0" r="1.15"/>
<circle cx="148.0" cy="260.6" r="1.15"/>
<circle cx="142.3" cy="267.1" r="1.15"/>
<circle cx="151.2" cy="260.3" r="1.15"/>
<circle cx="131.4" cy="270.6" r="1.15"/>
<circle cx="146.4" cy="263.8" r="1.15"/>
<circle cx="151.2" cy="260.2" r="1.15"/>
<circle cx="131.7" cy="264.1" r="1.15"/>
<circle cx="147.2" cy="283.2" r="1.15"/>
<circle cx="130.3" cy="259.1" r="1.15"/>
<circle cx="142.6" cy="269.3" r="1.15"/>
<circle cx="149.3" cy="281.6" r="1.15"/>
<circle cx="136.1" cy="256.7" r="1.15"/>
<circle cx="132.9" cy="276.8" r="1.15"/>
<circle cx="139.5" cy="268.3" r="1.15"/>
<circle cx="134.6" cy="274.4" r="1.15"/>
<circle cx="150.5" cy="259.9" r="1.15"/>
<circle cx="147.3" cy="263.9" r="1.15"/>
<circle cx="130.6" cy="282.0" r="1.15"/>
<circle cx="140.0" cy="279.6" r="1.15"/>
<circle cx="133.6" cy="267.3" r="1.15"/>
<circle cx="129.6" cy="257.2" r="1.15"/>
<circle cx="132.0" cy="271.3" r="1.15"/>
<circle cx="149.3" cy="261.7" r="1.15"/>
<circle cx="141.0" cy="267.8" r="1.15"/>
<circle cx="149.3" cy="255.5" r="1.15"/>
<circle cx="141.9" cy="265.6" r="1.15"/>
<circle cx="141.6" cy="262.5" r="1.15"/>
<circle cx="150.0" cy="256.2" r="1.15"/>
<circle cx="142.6" cy="264.3" r="1.15"/>
<circle cx="143.6" cy="268.7" r="1.15"/>
<circle cx="148.6" cy="259.5" r="1.15"/>
<circle cx="129.7" cy="254.3" r="1.15"/>
<circle cx="146.6" cy="258.5" r="1.15"/>
<circle cx="137.3" cy="264.6" r="1.15"/>
<circle cx="148.4" cy="261.7" r="1.15"/>
<circle cx="144.7" cy="260.4" r="1.15"/>
<circle cx="143.4" cy="267.9" r="1.15"/>
<circle cx="148.2" cy="256.9" r="1.15"/>
<circle cx="149.7" cy="255.0" r="1.15"/>
<circle cx="134.5" cy="262.9" r="1.15"/>
<circle cx="148.8" cy="257.9" r="1.15"/>
<circle cx="132.6" cy="265.6" r="1.15"/>
<circle cx="131.0" cy="259.9" r="1.15"/>
<circle cx="149.4" cy="259.7" r="1.15"/>
<circle cx="140.4" cy="264.1" r="1.15"/>
<circle cx="142.3" cy="269.1" r="1.15"/>
<circle cx="138.8" cy="264.5" r="1.15"/>
<circle cx="141.9" cy="266.4" r="1.15"/>
<circle cx="142.2" cy="263.8" r="1.15"/>
<circle cx="138.7" cy="267.5" r="1.15"/>
<circle cx="141.1" cy="268.8" r="1.15"/>
<circle cx="138.6" cy="262.7" r="1.15"/>
<circle cx="148.5" cy="256.8" r="1.15"/>
<circle cx="139.8" cy="263.3" r="1.15"/>
<circle cx="139.6" cy="266.7" r="1.15"/>
<circle cx="133.2" cy="266.3" r="1.15"/>
<circle cx="132.6" cy="259.2" r="1.15"/>
<circle cx="130.4" cy="259.4" r="1.15"/>
<circle cx="150.5" cy="237.0" r="1.15"/>
<circle cx="147.0" cy="253.0" r="1.15"/>
</g>
<polygon points="152.7,285.0 152.7,256.0 157.0,253.0 162.0,251.0 167.0,250.0 172.0,248.0 175.0,249.0 176.5,254.0 177.0,285.0" fill="#2eb80e"/>
<g fill="#2eb80e" fill-opacity="0.80">
<circle cx="179.4" cy="279.3" r="1.15"/>
<circle cx="165.5" cy="247.3" r="1.15"/>
<circle cx="178.4" cy="247.1" r="1.15"/>
<circle cx="164.3" cy="273.7" r="1.15"/>
<circle cx="172.4" cy="246.9" r="1.15"/>
<circle cx="156.7" cy="241.9" r="1.15"/>
<circle cx="160.5" cy="246.5" r="1.15"/>
<circle cx="168.8" cy="257.5" r="1.15"/>
<circle cx="178.2" cy="250.8" r="1.15"/>
<circle cx="157.1" cy="264.8" r="1.15"/>
<circle cx="180.1" cy="280.6" r="1.15"/>
<circle cx="162.6" cy="265.9" r="1.15"/>
<circle cx="176.0" cy="283.7" r="1.15"/>
<circle cx="178.9" cy="261.7" r="1.15"/>
<circle cx="181.6" cy="278.2" r="1.15"/>
<circle cx="181.2" cy="262.1" r="1.15"/>
<circle cx="177.2" cy="274.2" r="1.15"/>
<circle cx="179.8" cy="262.8" r="1.15"/>
<circle cx="179.1" cy="258.7" r="1.15"/>
<circle cx="163.2" cy="249.5" r="1.15"/>
<circle cx="155.5" cy="273.8" r="1.15"/>
<circle cx="177.1" cy="260.2" r="1.15"/>
<circle cx="179.5" cy="278.2" r="1.15"/>
<circle cx="157.1" cy="248.1" r="1.15"/>
<circle cx="178.0" cy="246.1" r="1.15"/>
<circle cx="177.2" cy="256.3" r="1.15"/>
<circle cx="161.8" cy="284.7" r="1.15"/>
<circle cx="174.1" cy="264.3" r="1.15"/>
<circle cx="162.4" cy="250.9" r="1.15"/>
<circle cx="164.4" cy="280.3" r="1.15"/>
<circle cx="177.1" cy="273.9" r="1.15"/>
<circle cx="177.5" cy="284.8" r="1.15"/>
<circle cx="172.7" cy="250.4" r="1.15"/>
<circle cx="159.8" cy="269.4" r="1.15"/>
<circle cx="173.4" cy="247.4" r="1.15"/>
<circle cx="182.5" cy="270.4" r="1.15"/>
<circle cx="174.0" cy="251.7" r="1.15"/>
<circle cx="179.8" cy="277.7" r="1.15"/>
<circle cx="177.5" cy="253.3" r="1.15"/>
<circle cx="176.0" cy="251.7" r="1.15"/>
<circle cx="178.0" cy="284.7" r="1.15"/>
<circle cx="159.8" cy="251.3" r="1.15"/>
<circle cx="158.0" cy="252.5" r="1.15"/>
<circle cx="181.8" cy="268.0" r="1.15"/>
<circle cx="175.8" cy="253.6" r="1.15"/>
<circle cx="173.5" cy="248.4" r="1.15"/>
<circle cx="160.4" cy="249.2" r="1.15"/>
<circle cx="176.1" cy="249.1" r="1.15"/>
<circle cx="172.2" cy="251.0" r="1.15"/>
<circle cx="169.1" cy="267.1" r="1.15"/>
<circle cx="181.4" cy="263.2" r="1.15"/>
<circle cx="179.1" cy="275.2" r="1.15"/>
<circle cx="179.5" cy="274.5" r="1.15"/>
<circle cx="179.6" cy="276.9" r="1.15"/>
<circle cx="181.4" cy="256.4" r="1.15"/>
<circle cx="169.2" cy="253.8" r="1.15"/>
<circle cx="177.4" cy="248.6" r="1.15"/>
<circle cx="161.7" cy="251.0" r="1.15"/>
<circle cx="167.0" cy="275.5" r="1.15"/>
<circle cx="177.0" cy="264.0" r="1.15"/>
<circle cx="180.1" cy="266.3" r="1.15"/>
<circle cx="180.6" cy="259.8" r="1.15"/>
<circle cx="178.6" cy="278.6" r="1.15"/>
<circle cx="179.8" cy="246.1" r="1.15"/>
<circle cx="179.2" cy="258.1" r="1.15"/>
<circle cx="171.7" cy="243.4" r="1.15"/>
<circle cx="163.1" cy="248.3" r="1.15"/>
<circle cx="157.3" cy="245.9" r="1.15"/>
<circle cx="179.3" cy="277.6" r="1.15"/>
<circle cx="181.3" cy="261.2" r="1.15"/>
<circle cx="162.6" cy="250.4" r="1.15"/>
<circle cx="161.5" cy="242.9" r="1.15"/>
<circle cx="159.9" cy="251.4" r="1.15"/>
<circle cx="154.0" cy="251.5" r="1.15"/>
<circle cx="159.1" cy="248.1" r="1.15"/>
<circle cx="178.9" cy="284.5" r="1.15"/>
<circle cx="153.8" cy="253.9" r="1.15"/>
<circle cx="171.2" cy="235.0" r="1.15"/>
<circle cx="175.3" cy="245.4" r="1.15"/>
<circle cx="155.1" cy="249.4" r="1.15"/>
<circle cx="159.1" cy="250.0" r="1.15"/>
<circle cx="177.2" cy="265.2" r="1.15"/>
<circle cx="155.4" cy="252.9" r="1.15"/>
<circle cx="178.9" cy="278.4" r="1.15"/>
<circle cx="172.5" cy="234.8" r="1.15"/>
<circle cx="162.5" cy="234.4" r="1.15"/>
<circle cx="179.4" cy="284.5" r="1.15"/>
<circle cx="157.9" cy="247.2" r="1.15"/>
<circle cx="165.7" cy="235.4" r="1.15"/>
<circle cx="173.4" cy="236.8" r="1.15"/>
<circle cx="177.1" cy="259.2" r="1.15"/>
<circle cx="177.6" cy="244.6" r="1.15"/>
<circle cx="170.8" cy="247.9" r="1.15"/>
<circle cx="153.7" cy="247.0" r="1.15"/>
<circle cx="175.8" cy="248.7" r="1.15"/>
<circle cx="176.1" cy="243.4" r="1.15"/>
<circle cx="176.9" cy="276.5" r="1.15"/>
<circle cx="153.9" cy="248.1" r="1.15"/>
<circle cx="156.0" cy="248.6" r="1.15"/>
<circle cx="177.8" cy="277.2" r="1.15"/>
<circle cx="179.2" cy="270.1" r="1.15"/>
<circle cx="179.4" cy="252.5" r="1.15"/>
<circle cx="177.7" cy="284.0" r="1.15"/>
<circle cx="163.0" cy="234.0" r="1.15"/>
<circle cx="180.0" cy="284.5" r="1.15"/>
<circle cx="178.7" cy="260.8" r="1.15"/>
<circle cx="177.7" cy="282.4" r="1.15"/>
<circle cx="181.2" cy="277.1" r="1.15"/>
<circle cx="179.6" cy="244.6" r="1.15"/>
<circle cx="179.2" cy="256.9" r="1.15"/>
<circle cx="157.1" cy="246.4" r="1.15"/>
<circle cx="178.2" cy="262.3" r="1.15"/>
<circle cx="164.9" cy="249.4" r="1.15"/>
<circle cx="159.1" cy="247.8" r="1.15"/>
<circle cx="177.3" cy="244.5" r="1.15"/>
<circle cx="178.1" cy="274.5" r="1.15"/>
<circle cx="177.5" cy="270.7" r="1.15"/>
<circle cx="178.7" cy="277.2" r="1.15"/>
<circle cx="168.3" cy="247.7" r="1.15"/>
<circle cx="158.1" cy="248.8" r="1.15"/>
<circle cx="181.3" cy="268.3" r="1.15"/>
<circle cx="166.9" cy="246.5" r="1.15"/>
<circle cx="173.4" cy="240.7" r="1.15"/>
<circle cx="181.0" cy="280.7" r="1.15"/>
<circle cx="179.4" cy="241.1" r="1.15"/>
<circle cx="180.3" cy="262.0" r="1.15"/>
<circle cx="178.1" cy="275.8" r="1.15"/>
<circle cx="178.4" cy="276.8" r="1.15"/>
<circle cx="178.0" cy="257.0" r="1.15"/>
<circle cx="180.5" cy="257.8" r="1.15"/>
<circle cx="169.3" cy="236.8" r="1.15"/>
<circle cx="153.0" cy="255.3" r="1.15"/>
<circle cx="163.4" cy="248.6" r="1.15"/>
<circle cx="163.2" cy="247.3" r="1.15"/>
<circle cx="169.0" cy="244.0" r="1.15"/>
<circle cx="181.7" cy="265.5" r="1.15"/>
<circle cx="176.8" cy="261.2" r="1.15"/>
<circle cx="160.2" cy="247.1" r="1.15"/>
<circle cx="153.8" cy="250.9" r="1.15"/>
<circle cx="162.6" cy="245.8" r="1.15"/>
<circle cx="161.6" cy="249.6" r="1.15"/>
<circle cx="179.3" cy="283.7" r="1.15"/>
<circle cx="160.9" cy="248.3" r="1.15"/>
<circle cx="164.0" cy="240.9" r="1.15"/>
<circle cx="177.4" cy="250.9" r="1.15"/>
<circle cx="166.0" cy="243.7" r="1.15"/>
<circle cx="162.3" cy="238.5" r="1.15"/>
<circle cx="181.3" cy="261.3" r="1.15"/>
<circle cx="181.1" cy="268.7" r="1.15"/>
<circle cx="177.3" cy="274.5" r="1.15"/>
<circle cx="159.0" cy="251.9" r="1.15"/>
<circle cx="176.8" cy="260.6" r="1.15"/>
<circle cx="165.2" cy="235.6" r="1.15"/>
<circle cx="166.8" cy="235.7" r="1.15"/>
<circle cx="178.3" cy="245.2" r="1.15"/>
<circle cx="157.6" cy="251.1" r="1.15"/>
<circle cx="153.4" cy="254.2" r="1.15"/>
<circle cx="177.1" cy="243.0" r="1.15"/>
<circle cx="178.6" cy="243.9" r="1.15"/>
<circle cx="161.9" cy="240.6" r="1.15"/>
<circle cx="154.3" cy="248.0" r="1.15"/>
<circle cx="165.7" cy="241.7" r="1.15"/>
<circle cx="177.5" cy="246.7" r="1.15"/>
<circle cx="179.5" cy="265.6" r="1.15"/>
<circle cx="175.0" cy="241.0" r="1.15"/>
<circle cx="180.1" cy="273.6" r="1.15"/>
<circle cx="162.6" cy="237.2" r="1.15"/>
<circle cx="180.9" cy="263.2" r="1.15"/>
<circle cx="165.1" cy="238.9" r="1.15"/>
<circle cx="179.3" cy="270.1" r="1.15"/>
<circle cx="170.3" cy="247.7" r="1.15"/>
<circle cx="169.6" cy="246.2" r="1.15"/>
<circle cx="170.1" cy="239.5" r="1.15"/>
<circle cx="156.9" cy="244.8" r="1.15"/>
<circle cx="160.9" cy="245.3" r="1.15"/>
<circle cx="179.3" cy="268.1" r="1.15"/>
<circle cx="170.8" cy="238.8" r="1.15"/>
<circle cx="176.6" cy="249.7" r="1.15"/>
<circle cx="179.1" cy="276.2" r="1.15"/>
<circle cx="170.2" cy="247.8" r="1.15"/>
<circle cx="168.6" cy="240.0" r="1.15"/>
<circle cx="179.4" cy="274.2" r="1.15"/>
<circle cx="168.0" cy="241.0" r="1.15"/>
<circle cx="178.9" cy="251.9" r="1.15"/>
<circle cx="164.2" cy="249.5" r="1.15"/>
<circle cx="156.2" cy="252.1" r="1.15"/>
<circle cx="178.0" cy="258.4" r="1.15"/>
<circle cx="166.0" cy="246.9" r="1.15"/>
<circle cx="169.4" cy="231.4" r="1.15"/>
<circle cx="176.2" cy="252.1" r="1.15"/>
<circle cx="155.0" cy="254.3" r="1.15"/>
<circle cx="176.7" cy="259.4" r="1.15"/>
<circle cx="176.3" cy="245.6" r="1.15"/>
<circle cx="162.8" cy="250.4" r="1.15"/>
<circle cx="181.1" cy="277.4" r="1.15"/>
<circle cx="154.1" cy="249.2" r="1.15"/>
<circle cx="175.9" cy="247.0" r="1.15"/>
<circle cx="158.6" cy="249.1" r="1.15"/>
<circle cx="177.8" cy="266.8" r="1.15"/>
<circle cx="159.8" cy="251.8" r="1.15"/>
<circle cx="168.3" cy="244.9" r="1.15"/>
<circle cx="180.8" cy="282.4" r="1.15"/>
<circle cx="155.2" cy="252.1" r="1.15"/>
<circle cx="177.0" cy="271.5" r="1.15"/>
<circle cx="180.0" cy="246.9" r="1.15"/>
<circle cx="180.6" cy="280.8" r="1.15"/>
<circle cx="163.1" cy="245.0" r="1.15"/>
<circle cx="170.2" cy="242.2" r="1.15"/>
<circle cx="161.5" cy="247.9" r="1.15"/>
<circle cx="156.5" cy="243.9" r="1.15"/>
<circle cx="154.1" cy="248.6" r="1.15"/>
<circle cx="173.5" cy="236.4" r="1.15"/>
<circle cx="178.1" cy="274.2" r="1.15"/>
<circle cx="160.0" cy="250.2" r="1.15"/>
<circle cx="156.6" cy="242.6" r="1.15"/>
<circle cx="178.3" cy="265.0" r="1.15"/>
<circle cx="171.3" cy="242.2" r="1.15"/>
<circle cx="173.0" cy="241.7" r="1.15"/>
<circle cx="180.8" cy="254.0" r="1.15"/>
<circle cx="170.0" cy="245.4" r="1.15"/>
<circle cx="178.4" cy="241.3" r="1.15"/>
<circle cx="167.1" cy="237.7" r="1.15"/>
<circle cx="164.2" cy="248.6" r="1.15"/>
<circle cx="181.3" cy="272.8" r="1.15"/>
<circle cx="160.7" cy="246.8" r="1.15"/>
<circle cx="161.4" cy="251.0" r="1.15"/>
<circle cx="160.9" cy="249.1" r="1.15"/>
<circle cx="179.2" cy="251.2" r="1.15"/>
<circle cx="177.4" cy="273.9" r="1.15"/>
<circle cx="161.2" cy="242.4" r="1.15"/>
<circle cx="169.6" cy="231.9" r="1.15"/>
<circle cx="180.7" cy="263.3" r="1.15"/>
<circle cx="178.7" cy="270.9" r="1.15"/>
<circle cx="180.1" cy="259.3" r="1.15"/>
<circle cx="176.2" cy="251.6" r="1.15"/>
<circle cx="181.1" cy="257.4" r="1.15"/>
<circle cx="179.9" cy="258.6" r="1.15"/>
<circle cx="161.7" cy="243.5" r="1.15"/>
<circle cx="179.1" cy="276.9" r="1.15"/>
<circle cx="157.6" cy="246.4" r="1.15"/>
<circle cx="174.5" cy="210.0" r="1.15"/>
<circle cx="175.7" cy="211.5" r="1.15"/>
<circle cx="177.0" cy="219.0" r="1.15"/>
<circle cx="172.0" cy="226.0" r="1.15"/>
<circle cx="180.0" cy="223.0" r="1.15"/>
<circle cx="168.0" cy="233.0" r="1.15"/>
<circle cx="183.0" cy="246.0" r="1.15"/>
<circle cx="187.0" cy="252.0" r="1.15"/>
<circle cx="186.5" cy="282.0" r="1.15"/>
<circle cx="183.0" cy="276.0" r="1.15"/>
<circle cx="165.0" cy="228.0" r="1.15"/>
<circle cx="171.0" cy="238.0" r="1.15"/>
<circle cx="178.0" cy="229.0" r="1.15"/>
<circle cx="176.0" cy="235.0" r="1.15"/>
</g>
<rect x="88.0" y="182.7" width="105.0" height="105.8" fill="none" stroke="#000" stroke-width="1.5"/>
<g stroke="#000" stroke-width="1.1">
<line x1="83.8" y1="284.4" x2="88" y2="284.4"/>
<line x1="83.8" y1="264.1" x2="88" y2="264.1"/>
<line x1="83.8" y1="243.7" x2="88" y2="243.7"/>
<line x1="83.8" y1="223.4" x2="88" y2="223.4"/>
<line x1="83.8" y1="203.0" x2="88" y2="203.0"/>
<line x1="83.8" y1="182.7" x2="88" y2="182.7"/>
<line x1="110.3" y1="288.5" x2="110.3" y2="293.0"/>
<line x1="140.3" y1="288.5" x2="140.3" y2="293.0"/>
<line x1="170.3" y1="288.5" x2="170.3" y2="293.0"/>
</g>
<text x="81.2" y="287.4" font-size="7.90" fill="#111" text-anchor="end" stroke="#111" stroke-width="0.15">0</text>
<text x="81.2" y="267.1" font-size="7.90" fill="#111" text-anchor="end" stroke="#111" stroke-width="0.15">25</text>
<text x="81.2" y="246.7" font-size="7.90" fill="#111" text-anchor="end" stroke="#111" stroke-width="0.15">50</text>
<text x="81.2" y="226.4" font-size="7.90" fill="#111" text-anchor="end" stroke="#111" stroke-width="0.15">75</text>
<text x="81.2" y="206.0" font-size="7.90" fill="#111" text-anchor="end" stroke="#111" stroke-width="0.15">100</text>
<text x="81.2" y="185.7" font-size="7.90" fill="#111" text-anchor="end" stroke="#111" stroke-width="0.15">125</text>
<text x="95.4" y="210.3" font-size="8.30" fill="#2e62d0" textLength="17.2" lengthAdjust="spacingAndGlyphs" stroke="#2e62d0" stroke-width="0.3">1616</text>
<text x="168.0" y="200.4" font-size="8.30" fill="#2f8a1c" textLength="19.0" lengthAdjust="spacingAndGlyphs" stroke="#2f8a1c" stroke-width="0.3">6478</text>
<g stroke="#f1f4f4" stroke-width="0.8">
<line x1="95.3" y1="310.2" x2="95.3" y2="415.8"/>
<line x1="110.3" y1="310.2" x2="110.3" y2="415.8"/>
<line x1="125.3" y1="310.2" x2="125.3" y2="415.8"/>
<line x1="140.3" y1="310.2" x2="140.3" y2="415.8"/>
<line x1="155.3" y1="310.2" x2="155.3" y2="415.8"/>
<line x1="170.3" y1="310.2" x2="170.3" y2="415.8"/>
<line x1="185.3" y1="310.2" x2="185.3" y2="415.8"/>
<line x1="88.0" y1="411.8" x2="193.0" y2="411.8"/>
<line x1="88.0" y1="401.6" x2="193.0" y2="401.6"/>
<line x1="88.0" y1="391.5" x2="193.0" y2="391.5"/>
<line x1="88.0" y1="381.3" x2="193.0" y2="381.3"/>
<line x1="88.0" y1="371.1" x2="193.0" y2="371.1"/>
<line x1="88.0" y1="360.9" x2="193.0" y2="360.9"/>
<line x1="88.0" y1="350.8" x2="193.0" y2="350.8"/>
<line x1="88.0" y1="340.6" x2="193.0" y2="340.6"/>
<line x1="88.0" y1="330.4" x2="193.0" y2="330.4"/>
<line x1="88.0" y1="320.3" x2="193.0" y2="320.3"/>
<line x1="88.0" y1="310.1" x2="193.0" y2="310.1"/>
</g>
<g stroke="#a0aaaa" stroke-width="1.0" stroke-dasharray="1.0 2.75">
<line x1="128.7" y1="311.2" x2="128.7" y2="414.8"/>
<line x1="152.6" y1="311.2" x2="152.6" y2="414.8"/>
<line x1="89.0" y1="410.8" x2="192.0" y2="410.8"/>
</g>
<polygon points="116.0,412.5 116.5,402.0 117.8,397.0 120.0,392.0 124.0,391.0 128.7,390.0 128.7,412.5" fill="#b20000"/>
<g fill="#b20000" fill-opacity="0.80">
<circle cx="120.5" cy="385.8" r="1.15"/>
<circle cx="118.2" cy="395.1" r="1.15"/>
<circle cx="121.0" cy="391.8" r="1.15"/>
<circle cx="117.6" cy="408.3" r="1.15"/>
<circle cx="116.2" cy="410.2" r="1.15"/>
<circle cx="120.8" cy="390.4" r="1.15"/>
<circle cx="117.4" cy="387.9" r="1.15"/>
<circle cx="118.2" cy="389.7" r="1.15"/>
<circle cx="124.5" cy="389.8" r="1.15"/>
<circle cx="117.1" cy="399.4" r="1.15"/>
<circle cx="117.4" cy="392.1" r="1.15"/>
<circle cx="120.4" cy="387.7" r="1.15"/>
<circle cx="121.1" cy="390.7" r="1.15"/>
<circle cx="118.6" cy="394.8" r="1.15"/>
<circle cx="113.5" cy="401.4" r="1.15"/>
<circle cx="119.8" cy="400.9" r="1.15"/>
<circle cx="116.2" cy="407.2" r="1.15"/>
<circle cx="114.9" cy="399.2" r="1.15"/>
<circle cx="122.2" cy="384.8" r="1.15"/>
<circle cx="128.5" cy="403.2" r="1.15"/>
<circle cx="124.3" cy="406.7" r="1.15"/>
<circle cx="120.5" cy="388.7" r="1.15"/>
<circle cx="121.4" cy="391.6" r="1.15"/>
<circle cx="118.2" cy="398.5" r="1.15"/>
<circle cx="125.4" cy="404.4" r="1.15"/>
<circle cx="119.1" cy="394.0" r="1.15"/>
<circle cx="128.4" cy="409.9" r="1.15"/>
<circle cx="123.0" cy="397.9" r="1.15"/>
<circle cx="119.7" cy="390.0" r="1.15"/>
<circle cx="128.6" cy="389.1" r="1.15"/>
<circle cx="116.7" cy="399.2" r="1.15"/>
<circle cx="117.9" cy="411.9" r="1.15"/>
<circle cx="116.3" cy="402.7" r="1.15"/>
<circle cx="119.9" cy="390.2" r="1.15"/>
<circle cx="119.2" cy="393.5" r="1.15"/>
<circle cx="126.4" cy="388.0" r="1.15"/>
<circle cx="122.8" cy="391.0" r="1.15"/>
<circle cx="116.1" cy="388.2" r="1.15"/>
<circle cx="114.1" cy="410.7" r="1.15"/>
<circle cx="125.4" cy="411.0" r="1.15"/>
<circle cx="124.6" cy="390.4" r="1.15"/>
<circle cx="122.2" cy="410.8" r="1.15"/>
<circle cx="115.6" cy="406.6" r="1.15"/>
<circle cx="113.2" cy="412.1" r="1.15"/>
<circle cx="115.3" cy="387.5" r="1.15"/>
<circle cx="125.8" cy="390.3" r="1.15"/>
<circle cx="112.5" cy="399.8" r="1.15"/>
<circle cx="124.6" cy="386.3" r="1.15"/>
<circle cx="114.4" cy="410.7" r="1.15"/>
<circle cx="122.0" cy="388.5" r="1.15"/>
<circle cx="124.4" cy="387.8" r="1.15"/>
<circle cx="126.0" cy="386.4" r="1.15"/>
<circle cx="118.7" cy="396.7" r="1.15"/>
<circle cx="127.1" cy="396.9" r="1.15"/>
<circle cx="117.4" cy="395.6" r="1.15"/>
<circle cx="118.5" cy="395.0" r="1.15"/>
<circle cx="116.7" cy="391.5" r="1.15"/>
<circle cx="128.5" cy="407.6" r="1.15"/>
<circle cx="115.8" cy="403.0" r="1.15"/>
<circle cx="114.5" cy="397.3" r="1.15"/>
<circle cx="113.4" cy="407.8" r="1.15"/>
<circle cx="117.8" cy="395.3" r="1.15"/>
<circle cx="117.4" cy="386.9" r="1.15"/>
<circle cx="119.9" cy="392.0" r="1.15"/>
<circle cx="119.4" cy="390.1" r="1.15"/>
<circle cx="114.6" cy="408.7" r="1.15"/>
<circle cx="122.8" cy="390.3" r="1.15"/>
<circle cx="125.0" cy="397.3" r="1.15"/>
<circle cx="124.6" cy="388.4" r="1.15"/>
<circle cx="111.9" cy="409.8" r="1.15"/>
<circle cx="117.0" cy="394.9" r="1.15"/>
<circle cx="114.0" cy="391.5" r="1.15"/>
<circle cx="122.5" cy="406.2" r="1.15"/>
<circle cx="127.1" cy="388.9" r="1.15"/>
<circle cx="114.4" cy="398.9" r="1.15"/>
<circle cx="117.7" cy="395.4" r="1.15"/>
<circle cx="125.2" cy="393.3" r="1.15"/>
<circle cx="122.9" cy="397.6" r="1.15"/>
<circle cx="116.9" cy="394.6" r="1.15"/>
<circle cx="113.8" cy="407.8" r="1.15"/>
<circle cx="116.3" cy="388.3" r="1.15"/>
<circle cx="127.6" cy="384.9" r="1.15"/>
<circle cx="123.8" cy="386.4" r="1.15"/>
<circle cx="125.1" cy="383.7" r="1.15"/>
<circle cx="124.6" cy="387.2" r="1.15"/>
<circle cx="115.6" cy="398.3" r="1.15"/>
<circle cx="119.9" cy="386.5" r="1.15"/>
<circle cx="121.5" cy="384.2" r="1.15"/>
<circle cx="115.7" cy="400.8" r="1.15"/>
<circle cx="115.8" cy="391.4" r="1.15"/>
<circle cx="123.4" cy="390.3" r="1.15"/>
<circle cx="127.5" cy="381.6" r="1.15"/>
<circle cx="119.0" cy="381.3" r="1.15"/>
<circle cx="116.9" cy="399.0" r="1.15"/>
<circle cx="128.2" cy="380.9" r="1.15"/>
<circle cx="121.1" cy="390.5" r="1.15"/>
<circle cx="115.6" cy="393.0" r="1.15"/>
<circle cx="122.9" cy="391.2" r="1.15"/>
<circle cx="124.9" cy="389.2" r="1.15"/>
<circle cx="127.1" cy="389.8" r="1.15"/>
<circle cx="128.6" cy="379.7" r="1.15"/>
<circle cx="125.7" cy="389.7" r="1.15"/>
<circle cx="124.5" cy="385.1" r="1.15"/>
<circle cx="122.3" cy="385.8" r="1.15"/>
<circle cx="115.5" cy="410.0" r="1.15"/>
<circle cx="126.1" cy="382.4" r="1.15"/>
<circle cx="118.8" cy="385.9" r="1.15"/>
<circle cx="116.7" cy="396.5" r="1.15"/>
<circle cx="119.8" cy="382.6" r="1.15"/>
<circle cx="115.7" cy="393.9" r="1.15"/>
<circle cx="127.4" cy="384.5" r="1.15"/>
<circle cx="116.4" cy="395.3" r="1.15"/>
<circle cx="127.9" cy="377.8" r="1.15"/>
<circle cx="121.4" cy="387.8" r="1.15"/>
<circle cx="117.4" cy="384.3" r="1.15"/>
<circle cx="126.1" cy="389.3" r="1.15"/>
<circle cx="128.2" cy="387.1" r="1.15"/>
<circle cx="115.0" cy="402.7" r="1.15"/>
<circle cx="126.1" cy="378.1" r="1.15"/>
<circle cx="115.0" cy="393.7" r="1.15"/>
<circle cx="124.4" cy="367.6" r="1.15"/>
<circle cx="120.8" cy="369.8" r="1.15"/>
<circle cx="122.2" cy="372.2" r="1.15"/>
<circle cx="128.0" cy="370.8" r="1.15"/>
<circle cx="119.2" cy="371.3" r="1.15"/>
<circle cx="110.0" cy="402.6" r="1.15"/>
<circle cx="112.0" cy="405.0" r="1.15"/>
</g>
<polygon points="128.7,412.5 128.7,382.0 131.0,380.0 134.0,379.0 137.0,378.5 140.0,378.0 144.0,377.5 147.0,378.5 150.0,379.5 152.7,380.0 152.7,412.5" fill="#a9b3b3"/>
<g fill="#a9b3b3" fill-opacity="0.80">
<circle cx="145.2" cy="410.2" r="1.15"/>
<circle cx="136.3" cy="407.3" r="1.15"/>
<circle cx="142.5" cy="398.6" r="1.15"/>
<circle cx="143.2" cy="374.8" r="1.15"/>
<circle cx="146.1" cy="374.1" r="1.15"/>
<circle cx="149.7" cy="375.8" r="1.15"/>
<circle cx="142.1" cy="392.8" r="1.15"/>
<circle cx="144.4" cy="397.8" r="1.15"/>
<circle cx="152.3" cy="379.9" r="1.15"/>
<circle cx="144.5" cy="375.1" r="1.15"/>
<circle cx="148.6" cy="377.1" r="1.15"/>
<circle cx="137.0" cy="398.4" r="1.15"/>
<circle cx="143.2" cy="401.9" r="1.15"/>
<circle cx="128.8" cy="376.9" r="1.15"/>
<circle cx="147.5" cy="398.5" r="1.15"/>
<circle cx="146.9" cy="376.1" r="1.15"/>
<circle cx="130.2" cy="369.3" r="1.15"/>
<circle cx="147.8" cy="389.6" r="1.15"/>
<circle cx="131.0" cy="408.1" r="1.15"/>
<circle cx="151.5" cy="396.7" r="1.15"/>
<circle cx="135.6" cy="378.0" r="1.15"/>
<circle cx="130.9" cy="386.9" r="1.15"/>
<circle cx="145.7" cy="406.0" r="1.15"/>
<circle cx="129.5" cy="380.6" r="1.15"/>
<circle cx="137.9" cy="399.7" r="1.15"/>
<circle cx="147.2" cy="387.9" r="1.15"/>
<circle cx="138.0" cy="387.1" r="1.15"/>
<circle cx="129.1" cy="376.7" r="1.15"/>
<circle cx="139.9" cy="406.6" r="1.15"/>
<circle cx="129.7" cy="376.8" r="1.15"/>
<circle cx="129.4" cy="407.2" r="1.15"/>
<circle cx="142.8" cy="376.8" r="1.15"/>
<circle cx="138.8" cy="378.4" r="1.15"/>
<circle cx="152.1" cy="393.9" r="1.15"/>
<circle cx="148.4" cy="376.3" r="1.15"/>
<circle cx="134.9" cy="378.3" r="1.15"/>
<circle cx="144.0" cy="402.7" r="1.15"/>
<circle cx="141.9" cy="408.2" r="1.15"/>
<circle cx="132.9" cy="367.8" r="1.15"/>
<circle cx="131.7" cy="378.6" r="1.15"/>
<circle cx="137.8" cy="393.1" r="1.15"/>
<circle cx="149.2" cy="381.9" r="1.15"/>
<circle cx="143.8" cy="385.8" r="1.15"/>
<circle cx="145.9" cy="379.9" r="1.15"/>
<circle cx="138.3" cy="390.9" r="1.15"/>
<circle cx="137.5" cy="378.3" r="1.15"/>
<circle cx="136.6" cy="386.6" r="1.15"/>
<circle cx="138.0" cy="398.5" r="1.15"/>
<circle cx="135.4" cy="375.6" r="1.15"/>
<circle cx="149.4" cy="383.4" r="1.15"/>
<circle cx="142.3" cy="391.4" r="1.15"/>
<circle cx="136.7" cy="375.1" r="1.15"/>
<circle cx="130.0" cy="380.1" r="1.15"/>
<circle cx="145.2" cy="389.9" r="1.15"/>
<circle cx="134.2" cy="377.0" r="1.15"/>
<circle cx="143.5" cy="376.5" r="1.15"/>
<circle cx="129.3" cy="390.7" r="1.15"/>
<circle cx="136.5" cy="409.3" r="1.15"/>
<circle cx="140.8" cy="410.9" r="1.15"/>
<circle cx="136.2" cy="377.4" r="1.15"/>
<circle cx="135.9" cy="378.5" r="1.15"/>
<circle cx="136.7" cy="395.9" r="1.15"/>
<circle cx="145.8" cy="380.2" r="1.15"/>
<circle cx="147.5" cy="398.2" r="1.15"/>
<circle cx="143.7" cy="403.9" r="1.15"/>
<circle cx="134.8" cy="388.7" r="1.15"/>
<circle cx="136.0" cy="378.4" r="1.15"/>
<circle cx="146.3" cy="378.3" r="1.15"/>
<circle cx="130.4" cy="396.3" r="1.15"/>
<circle cx="137.5" cy="373.7" r="1.15"/>
<circle cx="131.9" cy="378.7" r="1.15"/>
<circle cx="147.1" cy="375.5" r="1.15"/>
<circle cx="133.3" cy="410.4" r="1.15"/>
<circle cx="139.5" cy="397.5" r="1.15"/>
<circle cx="130.4" cy="391.2" r="1.15"/>
<circle cx="151.0" cy="379.2" r="1.15"/>
<circle cx="138.7" cy="391.5" r="1.15"/>
<circle cx="143.2" cy="410.0" r="1.15"/>
<circle cx="152.2" cy="397.0" r="1.15"/>
<circle cx="144.0" cy="399.5" r="1.15"/>
<circle cx="148.7" cy="378.8" r="1.15"/>
<circle cx="134.3" cy="374.4" r="1.15"/>
<circle cx="134.0" cy="373.3" r="1.15"/>
<circle cx="146.8" cy="375.2" r="1.15"/>
<circle cx="152.1" cy="374.7" r="1.15"/>
<circle cx="149.5" cy="374.0" r="1.15"/>
<circle cx="140.0" cy="372.8" r="1.15"/>
<circle cx="132.3" cy="375.7" r="1.15"/>
<circle cx="133.7" cy="375.3" r="1.15"/>
<circle cx="135.0" cy="373.9" r="1.15"/>
<circle cx="149.0" cy="376.3" r="1.15"/>
<circle cx="150.9" cy="375.4" r="1.15"/>
<circle cx="130.5" cy="378.4" r="1.15"/>
<circle cx="131.0" cy="378.5" r="1.15"/>
<circle cx="140.9" cy="371.4" r="1.15"/>
<circle cx="152.2" cy="379.8" r="1.15"/>
<circle cx="133.7" cy="374.5" r="1.15"/>
<circle cx="149.2" cy="374.4" r="1.15"/>
<circle cx="136.2" cy="372.6" r="1.15"/>
<circle cx="148.4" cy="378.7" r="1.15"/>
<circle cx="138.4" cy="374.1" r="1.15"/>
<circle cx="137.9" cy="374.8" r="1.15"/>
<circle cx="139.8" cy="373.0" r="1.15"/>
<circle cx="144.4" cy="376.2" r="1.15"/>
<circle cx="129.8" cy="379.3" r="1.15"/>
<circle cx="139.9" cy="375.9" r="1.15"/>
<circle cx="139.1" cy="377.8" r="1.15"/>
<circle cx="142.3" cy="375.1" r="1.15"/>
<circle cx="135.6" cy="377.4" r="1.15"/>
<circle cx="139.5" cy="374.4" r="1.15"/>
<circle cx="139.2" cy="376.3" r="1.15"/>
<circle cx="130.6" cy="379.0" r="1.15"/>
<circle cx="145.8" cy="371.9" r="1.15"/>
<circle cx="152.5" cy="372.7" r="1.15"/>
<circle cx="152.1" cy="379.4" r="1.15"/>
<circle cx="132.4" cy="373.3" r="1.15"/>
<circle cx="137.3" cy="371.6" r="1.15"/>
<circle cx="129.7" cy="377.9" r="1.15"/>
<circle cx="149.2" cy="372.6" r="1.15"/>
<circle cx="136.2" cy="376.5" r="1.15"/>
<circle cx="134.8" cy="320.4" r="1.15"/>
<circle cx="137.8" cy="319.4" r="1.15"/>
<circle cx="135.2" cy="325.1" r="1.15"/>
<circle cx="133.0" cy="341.4" r="1.15"/>
<circle cx="135.2" cy="343.9" r="1.15"/>
<circle cx="141.0" cy="344.6" r="1.15"/>
<circle cx="132.3" cy="348.2" r="1.15"/>
<circle cx="151.8" cy="339.5" r="1.15"/>
<circle cx="152.2" cy="340.5" r="1.15"/>
<circle cx="130.2" cy="351.8" r="1.15"/>
<circle cx="136.0" cy="355.8" r="1.15"/>
<circle cx="140.3" cy="355.4" r="1.15"/>
<circle cx="131.6" cy="358.7" r="1.15"/>
<circle cx="136.0" cy="358.0" r="1.15"/>
<circle cx="151.0" cy="351.0" r="1.15"/>
<circle cx="147.5" cy="364.8" r="1.15"/>
<circle cx="137.4" cy="364.8" r="1.15"/>
<circle cx="136.7" cy="366.5" r="1.15"/>
<circle cx="130.2" cy="364.8" r="1.15"/>
<circle cx="146.9" cy="364.2" r="1.15"/>
</g>
<polygon points="152.7,412.5 152.7,381.0 156.0,379.0 160.0,378.5 164.0,379.5 166.5,382.0 167.5,390.0 167.8,400.0 168.0,412.5" fill="#2eb80e"/>
<g fill="#2eb80e" fill-opacity="0.80">
<circle cx="160.0" cy="389.5" r="1.15"/>
<circle cx="166.6" cy="395.5" r="1.15"/>
<circle cx="169.1" cy="382.6" r="1.15"/>
<circle cx="163.5" cy="377.9" r="1.15"/>
<circle cx="164.3" cy="379.1" r="1.15"/>
<circle cx="169.0" cy="404.8" r="1.15"/>
<circle cx="167.8" cy="389.3" r="1.15"/>
<circle cx="156.0" cy="402.9" r="1.15"/>
<circle cx="161.2" cy="397.9" r="1.15"/>
<circle cx="163.5" cy="373.2" r="1.15"/>
<circle cx="157.7" cy="373.4" r="1.15"/>
<circle cx="154.9" cy="409.6" r="1.15"/>
<circle cx="154.5" cy="409.7" r="1.15"/>
<circle cx="168.7" cy="399.8" r="1.15"/>
<circle cx="161.1" cy="409.0" r="1.15"/>
<circle cx="168.4" cy="402.0" r="1.15"/>
<circle cx="164.3" cy="397.3" r="1.15"/>
<circle cx="162.8" cy="378.0" r="1.15"/>
<circle cx="168.4" cy="406.0" r="1.15"/>
<circle cx="159.1" cy="402.9" r="1.15"/>
<circle cx="153.3" cy="387.9" r="1.15"/>
<circle cx="170.2" cy="401.5" r="1.15"/>
<circle cx="168.3" cy="389.4" r="1.15"/>
<circle cx="154.4" cy="409.2" r="1.15"/>
<circle cx="160.8" cy="376.5" r="1.15"/>
<circle cx="161.1" cy="384.2" r="1.15"/>
<circle cx="164.8" cy="378.0" r="1.15"/>
<circle cx="166.2" cy="402.0" r="1.15"/>
<circle cx="165.9" cy="379.2" r="1.15"/>
<circle cx="166.3" cy="389.8" r="1.15"/>
<circle cx="153.8" cy="409.7" r="1.15"/>
<circle cx="155.2" cy="400.9" r="1.15"/>
<circle cx="157.6" cy="388.1" r="1.15"/>
<circle cx="171.7" cy="406.0" r="1.15"/>
<circle cx="169.2" cy="393.4" r="1.15"/>
<circle cx="167.2" cy="395.4" r="1.15"/>
<circle cx="171.4" cy="379.2" r="1.15"/>
<circle cx="169.1" cy="406.4" r="1.15"/>
<circle cx="167.8" cy="381.2" r="1.15"/>
<circle cx="154.0" cy="388.3" r="1.15"/>
<circle cx="155.3" cy="375.6" r="1.15"/>
<circle cx="159.1" cy="405.1" r="1.15"/>
<circle cx="162.5" cy="385.3" r="1.15"/>
<circle cx="160.2" cy="402.9" r="1.15"/>
<circle cx="157.1" cy="377.5" r="1.15"/>
<circle cx="170.9" cy="381.8" r="1.15"/>
<circle cx="166.3" cy="380.6" r="1.15"/>
<circle cx="168.0" cy="404.7" r="1.15"/>
<circle cx="164.2" cy="371.0" r="1.15"/>
<circle cx="164.0" cy="390.8" r="1.15"/>
<circle cx="162.0" cy="374.3" r="1.15"/>
<circle cx="170.5" cy="409.9" r="1.15"/>
<circle cx="153.2" cy="379.6" r="1.15"/>
<circle cx="164.7" cy="399.3" r="1.15"/>
<circle cx="159.3" cy="384.1" r="1.15"/>
<circle cx="170.5" cy="410.4" r="1.15"/>
<circle cx="154.6" cy="379.5" r="1.15"/>
<circle cx="167.0" cy="381.6" r="1.15"/>
<circle cx="168.0" cy="389.3" r="1.15"/>
<circle cx="153.7" cy="392.3" r="1.15"/>
<circle cx="154.8" cy="390.6" r="1.15"/>
<circle cx="172.1" cy="393.7" r="1.15"/>
<circle cx="153.7" cy="380.1" r="1.15"/>
<circle cx="168.2" cy="410.9" r="1.15"/>
<circle cx="154.2" cy="379.5" r="1.15"/>
<circle cx="170.6" cy="382.3" r="1.15"/>
<circle cx="154.9" cy="379.1" r="1.15"/>
<circle cx="163.2" cy="406.2" r="1.15"/>
<circle cx="159.4" cy="381.7" r="1.15"/>
<circle cx="168.1" cy="380.0" r="1.15"/>
<circle cx="164.7" cy="379.6" r="1.15"/>
<circle cx="167.8" cy="379.0" r="1.15"/>
<circle cx="169.1" cy="398.2" r="1.15"/>
<circle cx="158.7" cy="376.7" r="1.15"/>
<circle cx="171.5" cy="399.6" r="1.15"/>
<circle cx="155.5" cy="378.3" r="1.15"/>
<circle cx="162.4" cy="378.1" r="1.15"/>
<circle cx="157.1" cy="373.9" r="1.15"/>
<circle cx="168.2" cy="380.6" r="1.15"/>
<circle cx="170.7" cy="394.7" r="1.15"/>
<circle cx="167.4" cy="385.5" r="1.15"/>
<circle cx="154.8" cy="397.5" r="1.15"/>
<circle cx="157.1" cy="376.5" r="1.15"/>
<circle cx="156.2" cy="377.1" r="1.15"/>
<circle cx="158.0" cy="374.7" r="1.15"/>
<circle cx="154.7" cy="399.1" r="1.15"/>
<circle cx="167.6" cy="390.0" r="1.15"/>
<circle cx="155.4" cy="388.7" r="1.15"/>
<circle cx="161.1" cy="383.8" r="1.15"/>
<circle cx="165.0" cy="380.3" r="1.15"/>
<circle cx="159.5" cy="394.2" r="1.15"/>
<circle cx="163.8" cy="387.6" r="1.15"/>
<circle cx="170.9" cy="394.4" r="1.15"/>
<circle cx="152.8" cy="378.8" r="1.15"/>
<circle cx="163.7" cy="377.0" r="1.15"/>
<circle cx="168.0" cy="406.5" r="1.15"/>
<circle cx="172.6" cy="411.6" r="1.15"/>
<circle cx="167.7" cy="391.1" r="1.15"/>
<circle cx="167.6" cy="403.3" r="1.15"/>
<circle cx="168.5" cy="408.3" r="1.15"/>
<circle cx="152.7" cy="370.4" r="1.15"/>
<circle cx="168.9" cy="402.2" r="1.15"/>
<circle cx="169.8" cy="411.9" r="1.15"/>
<circle cx="156.3" cy="375.7" r="1.15"/>
<circle cx="163.8" cy="379.1" r="1.15"/>
<circle cx="167.7" cy="380.5" r="1.15"/>
<circle cx="158.1" cy="372.0" r="1.15"/>
<circle cx="158.7" cy="378.2" r="1.15"/>
<circle cx="169.8" cy="402.9" r="1.15"/>
<circle cx="166.3" cy="375.4" r="1.15"/>
<circle cx="166.9" cy="376.7" r="1.15"/>
<circle cx="165.3" cy="378.4" r="1.15"/>
<circle cx="169.1" cy="387.4" r="1.15"/>
<circle cx="162.7" cy="368.3" r="1.15"/>
<circle cx="159.1" cy="378.5" r="1.15"/>
<circle cx="164.2" cy="379.5" r="1.15"/>
<circle cx="161.9" cy="373.1" r="1.15"/>
<circle cx="168.3" cy="410.5" r="1.15"/>
<circle cx="168.6" cy="410.4" r="1.15"/>
<circle cx="168.8" cy="377.2" r="1.15"/>
<circle cx="153.4" cy="377.8" r="1.15"/>
<circle cx="157.3" cy="368.3" r="1.15"/>
<circle cx="169.3" cy="399.3" r="1.15"/>
<circle cx="168.9" cy="399.5" r="1.15"/>
<circle cx="169.2" cy="381.6" r="1.15"/>
<circle cx="159.7" cy="376.2" r="1.15"/>
<circle cx="168.5" cy="378.9" r="1.15"/>
<circle cx="154.2" cy="375.2" r="1.15"/>
<circle cx="167.4" cy="373.2" r="1.15"/>
<circle cx="166.6" cy="371.4" r="1.15"/>
<circle cx="158.1" cy="377.2" r="1.15"/>
<circle cx="159.8" cy="372.9" r="1.15"/>
<circle cx="166.8" cy="382.2" r="1.15"/>
<circle cx="164.6" cy="368.3" r="1.15"/>
<circle cx="162.2" cy="368.1" r="1.15"/>
<circle cx="152.8" cy="371.8" r="1.15"/>
<circle cx="168.4" cy="386.1" r="1.15"/>
<circle cx="168.2" cy="406.2" r="1.15"/>
<circle cx="154.8" cy="370.3" r="1.15"/>
<circle cx="163.0" cy="370.5" r="1.15"/>
<circle cx="169.1" cy="407.9" r="1.15"/>
<circle cx="158.6" cy="375.6" r="1.15"/>
<circle cx="155.3" cy="378.3" r="1.15"/>
<circle cx="169.2" cy="390.4" r="1.15"/>
<circle cx="168.2" cy="404.2" r="1.15"/>
<circle cx="162.0" cy="368.0" r="1.15"/>
<circle cx="164.0" cy="372.3" r="1.15"/>
<circle cx="160.9" cy="371.2" r="1.15"/>
<circle cx="154.7" cy="376.9" r="1.15"/>
<circle cx="169.9" cy="412.5" r="1.15"/>
<circle cx="168.1" cy="338.5" r="1.15"/>
<circle cx="161.2" cy="347.2" r="1.15"/>
<circle cx="159.7" cy="351.0" r="1.15"/>
<circle cx="160.7" cy="354.0" r="1.15"/>
<circle cx="165.5" cy="354.7" r="1.15"/>
<circle cx="162.6" cy="358.3" r="1.15"/>
<circle cx="166.9" cy="359.0" r="1.15"/>
<circle cx="159.0" cy="361.2" r="1.15"/>
<circle cx="163.0" cy="361.0" r="1.15"/>
<circle cx="166.0" cy="362.5" r="1.15"/>
<circle cx="161.2" cy="364.8" r="1.15"/>
<circle cx="172.5" cy="372.0" r="1.15"/>
<circle cx="173.2" cy="406.8" r="1.15"/>
<circle cx="171.0" cy="377.0" r="1.15"/>
</g>
<rect x="88.0" y="310.2" width="105.0" height="105.6" fill="none" stroke="#000" stroke-width="1.5"/>
<g stroke="#000" stroke-width="1.1">
<line x1="83.8" y1="411.8" x2="88" y2="411.8"/>
<line x1="83.8" y1="391.5" x2="88" y2="391.5"/>
<line x1="83.8" y1="371.1" x2="88" y2="371.1"/>
<line x1="83.8" y1="350.8" x2="88" y2="350.8"/>
<line x1="83.8" y1="330.4" x2="88" y2="330.4"/>
<line x1="83.8" y1="310.1" x2="88" y2="310.1"/>
<line x1="110.3" y1="415.8" x2="110.3" y2="420.3"/>
<line x1="140.3" y1="415.8" x2="140.3" y2="420.3"/>
<line x1="170.3" y1="415.8" x2="170.3" y2="420.3"/>
</g>
<text x="81.2" y="414.8" font-size="7.90" fill="#111" text-anchor="end" stroke="#111" stroke-width="0.15">0</text>
<text x="81.2" y="394.5" font-size="7.90" fill="#111" text-anchor="end" stroke="#111" stroke-width="0.15">25</text>
<text x="81.2" y="374.1" font-size="7.90" fill="#111" text-anchor="end" stroke="#111" stroke-width="0.15">50</text>
<text x="81.2" y="353.8" font-size="7.90" fill="#111" text-anchor="end" stroke="#111" stroke-width="0.15">75</text>
<text x="81.2" y="333.4" font-size="7.90" fill="#111" text-anchor="end" stroke="#111" stroke-width="0.15">100</text>
<text x="81.2" y="313.1" font-size="7.90" fill="#111" text-anchor="end" stroke="#111" stroke-width="0.15">125</text>
<text x="95.9" y="327.9" font-size="8.30" fill="#c41a1a" textLength="13.7" lengthAdjust="spacingAndGlyphs" stroke="#c41a1a" stroke-width="0.3">738</text>
<text x="170.0" y="328.8" font-size="8.30" fill="#2f8a1c" textLength="17.0" lengthAdjust="spacingAndGlyphs" stroke="#2f8a1c" stroke-width="0.3">1661</text>
<text x="8.9" y="100.5" font-size="8.60" fill="#d21f3c" textLength="18.8" lengthAdjust="spacingAndGlyphs" >iNKT2</text>
<text x="14.4" y="116.0" font-size="8.60" fill="#111" textLength="8.3" lengthAdjust="spacingAndGlyphs" stroke="#111" stroke-width="0.2">VS</text>
<text x="8.9" y="129.9" font-size="8.60" fill="#2f5fd0" textLength="18.3" lengthAdjust="spacingAndGlyphs" >iNKT1</text>
<text x="7.0" y="220.5" font-size="8.60" fill="#4fe62a" textLength="22.9" lengthAdjust="spacingAndGlyphs" >iNKT17</text>
<text x="14.1" y="236.0" font-size="8.60" fill="#111" textLength="8.8" lengthAdjust="spacingAndGlyphs" stroke="#111" stroke-width="0.2">VS</text>
<text x="9.2" y="249.7" font-size="8.60" fill="#2f5fd0" textLength="18.4" lengthAdjust="spacingAndGlyphs" >iNKT1</text>
<text x="7.2" y="355.0" font-size="8.60" fill="#4fe62a" textLength="22.7" lengthAdjust="spacingAndGlyphs" >iNKT17</text>
<text x="14.2" y="370.7" font-size="8.60" fill="#111" textLength="8.7" lengthAdjust="spacingAndGlyphs" stroke="#111" stroke-width="0.2">VS</text>
<text x="8.9" y="384.7" font-size="8.60" fill="#d21f3c" textLength="18.8" lengthAdjust="spacingAndGlyphs" >iNKT2</text>
<text transform="translate(53.8,236.5) rotate(-90)" text-anchor="middle" font-size="8.6" fill="#222" stroke="#222" stroke-width="0.2" textLength="78.5" lengthAdjust="spacingAndGlyphs">-Log<tspan font-size="5.5" dy="2">10</tspan><tspan dy="-2"> (adjusted p-value)</tspan></text>
<text x="110.3" y="428.8" font-size="7.90" fill="#111" text-anchor="middle" stroke="#111" stroke-width="0.3">-5</text>
<text x="140.3" y="428.8" font-size="7.90" fill="#111" text-anchor="middle" stroke="#111" stroke-width="0.3">0</text>
<text x="170.3" y="428.8" font-size="7.90" fill="#111" text-anchor="middle" stroke="#111" stroke-width="0.3">5</text>
<text x="110.5" y="440.8" font-size="8.6" fill="#333" stroke="#333" stroke-width="0.2" textLength="54" lengthAdjust="spacingAndGlyphs">Log<tspan font-size="5.5" dy="2">2</tspan><tspan dy="-2"> fold change</tspan></text>
<text x="211.7" y="16.4" font-size="11.20" fill="#000" font-weight="bold" >B</text>
<text x="343.4" y="14.5" font-size="9.20" fill="#111" text-anchor="middle" textLength="39.4" lengthAdjust="spacingAndGlyphs" stroke="#111" stroke-width="0.15">ATACseq</text>
<text x="343.1" y="26.0" font-size="9.30" fill="#111" text-anchor="middle" textLength="51.6" lengthAdjust="spacingAndGlyphs" stroke="#111" stroke-width="0.15">2,500 peaks</text>
<path d="M288.6 31.0L397.4 31.0 M288.6 31.0L288.6 84.6 M270.4 84.6L306.8 84.6 M270.4 84.6L270.4 93.0 M306.8 84.6L306.8 93.0 M397.4 31.0L397.4 50.0 M360.6 50.0L433.9 50.0 M360.6 50.0L360.6 80.4 M342.6 80.4L378.9 80.4 M342.6 80.4L342.6 93.0 M378.9 80.4L378.9 93.0 M433.9 50.0L433.9 76.0 M415.3 76.0L451.5 76.0 M415.3 76.0L415.3 93.0 M451.5 76.0L451.5 93.0" stroke="#000" stroke-width="1.3" fill="none"/>
<text x="211.6" y="91.4" font-size="9.50" fill="#111" textLength="39.6" lengthAdjust="spacingAndGlyphs" stroke="#111" stroke-width="0.15">Promoter</text>
<rect x="252.3" y="92.9" width="72.4" height="11.9" fill="#0b40b6"/>
<rect x="324.7" y="92.9" width="72.3" height="11.9" fill="#cc0018"/>
<rect x="397" y="92.9" width="72.7" height="11.9" fill="#44ee10"/>
<text x="473.0" y="101.6" font-size="9.20" fill="#111" textLength="28.5" lengthAdjust="spacingAndGlyphs" stroke="#111" stroke-width="0.15">Subset</text>
<rect x="252.5" y="109.2" width="217.2" height="334.5" fill="#000"/>
<rect x="252.5" y="109.2" width="36.8" height="2.9" fill="#598000"/>
<rect x="252.5" y="111.7" width="36.8" height="1.2" fill="#385900"/>
<rect x="252.5" y="112.5" width="36.8" height="2.7" fill="#598000"/>
<rect x="252.5" y="114.8" width="36.8" height="1.1" fill="#4c7000"/>
<rect x="252.5" y="115.5" width="36.8" height="1.9" fill="#90b800"/>
<rect x="252.5" y="117.0" width="36.8" height="2.2" fill="#040d00"/>
<rect x="252.5" y="118.8" width="36.8" height="2.1" fill="#4c7000"/>
<rect x="252.5" y="120.5" width="36.8" height="1.4" fill="#90b800"/>
<rect x="252.5" y="121.5" width="36.8" height="3.1" fill="#97bf00"/>
<rect x="252.5" y="124.2" width="36.8" height="2.1" fill="#90b800"/>
<rect x="252.5" y="125.9" width="36.8" height="1.3" fill="#4c7000"/>
<rect x="252.5" y="126.8" width="36.8" height="2.6" fill="#193000"/>
<rect x="252.5" y="129.0" width="36.8" height="2.2" fill="#3f6100"/>
<rect x="252.5" y="130.8" width="36.8" height="1.6" fill="#4c7000"/>
<rect x="252.5" y="132.0" width="36.8" height="1.8" fill="#3f6100"/>
<rect x="252.5" y="133.4" width="36.8" height="2.2" fill="#4c7000"/>
<rect x="252.5" y="135.2" width="36.8" height="1.7" fill="#385900"/>
<rect x="252.5" y="136.5" width="36.8" height="3.5" fill="#1f3800"/>
<rect x="252.5" y="139.6" width="36.8" height="1.3" fill="#385900"/>
<rect x="252.5" y="140.5" width="36.8" height="6.5" fill="#688f00"/>
<rect x="252.5" y="146.6" width="36.8" height="1.8" fill="#598000"/>
<rect x="252.5" y="148.0" width="36.8" height="5.7" fill="#688f00"/>
<rect x="252.5" y="153.3" width="36.8" height="1.7" fill="#4c7000"/>
<rect x="252.5" y="154.6" width="36.8" height="3.1" fill="#9fc700"/>
<rect x="252.5" y="157.3" width="36.8" height="5.1" fill="#90b800"/>
<rect x="252.5" y="162.0" width="36.8" height="1.7" fill="#769e00"/>
<rect x="252.5" y="163.3" width="36.8" height="3.7" fill="#9fc700"/>
<rect x="252.5" y="166.6" width="36.8" height="2.4" fill="#4c7000"/>
<rect x="252.5" y="168.6" width="36.8" height="3.7" fill="#3f6100"/>
<rect x="252.5" y="171.9" width="36.8" height="3.7" fill="#1f3800"/>
<rect x="252.5" y="175.2" width="36.8" height="3.8" fill="#688f00"/>
<rect x="252.5" y="178.6" width="36.8" height="7.0" fill="#769e00"/>
<rect x="252.5" y="185.2" width="36.8" height="8.4" fill="#90b800"/>
<rect x="252.5" y="193.2" width="36.8" height="2.2" fill="#b2d900"/>
<rect x="252.5" y="195.0" width="36.8" height="6.0" fill="#bae000"/>
<rect x="252.5" y="200.6" width="36.8" height="3.9" fill="#cbf000"/>
<rect x="252.5" y="204.1" width="36.8" height="3.9" fill="#b2d900"/>
<rect x="252.5" y="207.6" width="36.8" height="1.8" fill="#aad100"/>
<rect x="252.5" y="209.0" width="36.8" height="3.4" fill="#b2d900"/>
<rect x="252.5" y="212.0" width="36.8" height="1.4" fill="#a5cc00"/>
<rect x="252.5" y="213.0" width="36.8" height="4.2" fill="#b2d900"/>
<rect x="252.5" y="216.8" width="36.8" height="1.8" fill="#0c0056"/>
<rect x="252.5" y="218.2" width="36.8" height="3.2" fill="#280096"/>
<rect x="252.5" y="221.0" width="36.8" height="1.8" fill="#13006e"/>
<rect x="252.5" y="222.4" width="36.8" height="3.2" fill="#2d009c"/>
<rect x="252.5" y="225.2" width="36.8" height="1.8" fill="#080032"/>
<rect x="252.5" y="226.6" width="36.8" height="3.8" fill="#0a0050"/>
<rect x="252.5" y="230.0" width="36.8" height="1.9" fill="#180080"/>
<rect x="252.5" y="231.5" width="36.8" height="3.2" fill="#280096"/>
<rect x="252.5" y="234.3" width="36.8" height="1.8" fill="#13006e"/>
<rect x="252.5" y="235.7" width="36.8" height="3.2" fill="#08002a"/>
<rect x="252.5" y="238.5" width="36.8" height="1.9" fill="#3b00b2"/>
<rect x="252.5" y="240.0" width="36.8" height="4.6" fill="#7500e7"/>
<rect x="252.5" y="244.2" width="36.8" height="6.0" fill="#6200da"/>
<rect x="252.5" y="249.8" width="36.8" height="4.6" fill="#4800c3"/>
<rect x="252.5" y="254.0" width="36.8" height="14.4" fill="#7500e7"/>
<rect x="252.5" y="268.0" width="36.8" height="3.4" fill="#5500d0"/>
<rect x="252.5" y="271.0" width="36.8" height="20.0" fill="#7b00ed"/>
<rect x="252.5" y="290.6" width="36.8" height="1.8" fill="#080032"/>
<rect x="252.5" y="292.0" width="36.8" height="3.2" fill="#06001d"/>
<rect x="252.5" y="294.8" width="36.8" height="1.8" fill="#080032"/>
<rect x="252.5" y="296.2" width="36.8" height="5.4" fill="#090039"/>
<rect x="252.5" y="301.2" width="36.8" height="2.5" fill="#030011"/>
<rect x="252.5" y="303.3" width="36.8" height="7.4" fill="#0c0056"/>
<rect x="252.5" y="310.3" width="36.8" height="7.4" fill="#120069"/>
<rect x="252.5" y="317.3" width="36.8" height="2.5" fill="#0a0048"/>
<rect x="252.5" y="319.4" width="36.8" height="2.5" fill="#0c0056"/>
<rect x="252.5" y="321.5" width="36.8" height="3.9" fill="#030011"/>
<rect x="252.5" y="325.0" width="36.8" height="2.5" fill="#3000a0"/>
<rect x="252.5" y="327.1" width="36.8" height="3.3" fill="#280096"/>
<rect x="252.5" y="330.0" width="36.8" height="2.5" fill="#3500a7"/>
<rect x="252.5" y="332.1" width="36.8" height="3.9" fill="#1e0088"/>
<rect x="252.5" y="335.6" width="36.8" height="3.2" fill="#160077"/>
<rect x="252.5" y="338.4" width="36.8" height="4.6" fill="#0c0056"/>
<rect x="252.5" y="342.6" width="36.8" height="1.8" fill="#030011"/>
<rect x="252.5" y="344.0" width="36.8" height="10.3" fill="#090039"/>
<rect x="252.5" y="353.9" width="36.8" height="1.8" fill="#030011"/>
<rect x="252.5" y="355.3" width="36.8" height="7.4" fill="#0a0050"/>
<rect x="252.5" y="362.3" width="36.8" height="3.2" fill="#08002a"/>
<rect x="252.5" y="365.1" width="36.8" height="3.2" fill="#0a0048"/>
<rect x="252.5" y="367.9" width="36.8" height="8.8" fill="#060022"/>
<rect x="252.5" y="376.3" width="36.8" height="1.2" fill="#000000"/>
<rect x="252.5" y="377.1" width="36.8" height="3.9" fill="#4000b9"/>
<rect x="252.5" y="380.6" width="36.8" height="6.0" fill="#3700ab"/>
<rect x="252.5" y="386.2" width="36.8" height="7.5" fill="#6200da"/>
<rect x="252.5" y="393.3" width="36.8" height="3.1" fill="#5000cd"/>
<rect x="252.5" y="396.0" width="36.8" height="7.4" fill="#7500e7"/>
<rect x="252.5" y="403.0" width="36.8" height="2.6" fill="#5000cd"/>
<rect x="252.5" y="405.2" width="36.8" height="5.1" fill="#3b00b2"/>
<rect x="252.5" y="409.9" width="36.8" height="5.3" fill="#120069"/>
<rect x="252.5" y="414.8" width="36.8" height="3.2" fill="#3000a0"/>
<rect x="252.5" y="417.6" width="36.8" height="4.0" fill="#2b009a"/>
<rect x="252.5" y="421.2" width="36.8" height="2.5" fill="#08002a"/>
<rect x="252.5" y="423.3" width="36.8" height="20.4" fill="#8000f0"/>
<rect x="288.7" y="109.2" width="36.7" height="4.6" fill="#aad100"/>
<rect x="288.7" y="113.4" width="36.7" height="1.8" fill="#90b800"/>
<rect x="288.7" y="114.8" width="36.7" height="1.8" fill="#bae000"/>
<rect x="288.7" y="116.2" width="36.7" height="1.6" fill="#638a00"/>
<rect x="288.7" y="117.4" width="36.7" height="2.0" fill="#000000"/>
<rect x="288.7" y="119.0" width="36.7" height="1.8" fill="#c3e800"/>
<rect x="288.7" y="120.4" width="36.7" height="20.0" fill="#dcff00"/>
<rect x="288.7" y="140.0" width="36.7" height="15.6" fill="#c3e800"/>
<rect x="288.7" y="155.2" width="36.7" height="1.8" fill="#afd600"/>
<rect x="288.7" y="156.6" width="36.7" height="5.5" fill="#bde300"/>
<rect x="288.7" y="161.7" width="36.7" height="1.7" fill="#a5cc00"/>
<rect x="288.7" y="163.0" width="36.7" height="2.7" fill="#bae000"/>
<rect x="288.7" y="165.3" width="36.7" height="10.4" fill="#d3f700"/>
<rect x="288.7" y="175.3" width="36.7" height="1.9" fill="#b5db00"/>
<rect x="288.7" y="176.8" width="36.7" height="9.0" fill="#c3e800"/>
<rect x="288.7" y="185.4" width="36.7" height="7.6" fill="#bde300"/>
<rect x="288.7" y="192.6" width="36.7" height="2.6" fill="#90b800"/>
<rect x="288.7" y="194.8" width="36.7" height="4.8" fill="#769e00"/>
<rect x="288.7" y="199.2" width="36.7" height="1.8" fill="#90b800"/>
<rect x="288.7" y="200.6" width="36.7" height="2.5" fill="#3f6100"/>
<rect x="288.7" y="202.7" width="36.7" height="2.5" fill="#688f00"/>
<rect x="288.7" y="204.8" width="36.7" height="4.6" fill="#90b800"/>
<rect x="288.7" y="209.0" width="36.7" height="3.2" fill="#80a800"/>
<rect x="288.7" y="211.8" width="36.7" height="5.4" fill="#90b800"/>
<rect x="288.7" y="216.8" width="36.7" height="1.8" fill="#180080"/>
<rect x="288.7" y="218.2" width="36.7" height="6.7" fill="#4000b9"/>
<rect x="288.7" y="224.5" width="36.7" height="2.5" fill="#13006e"/>
<rect x="288.7" y="226.6" width="36.7" height="3.2" fill="#280096"/>
<rect x="288.7" y="229.4" width="36.7" height="6.7" fill="#22008e"/>
<rect x="288.7" y="235.7" width="36.7" height="3.2" fill="#0a0050"/>
<rect x="288.7" y="238.5" width="36.7" height="10.3" fill="#8000f0"/>
<rect x="288.7" y="248.4" width="36.7" height="6.0" fill="#6a00e0"/>
<rect x="288.7" y="254.0" width="36.7" height="14.4" fill="#8000f0"/>
<rect x="288.7" y="268.0" width="36.7" height="4.7" fill="#6a00e0"/>
<rect x="288.7" y="272.3" width="36.7" height="18.7" fill="#8808f2"/>
<rect x="288.7" y="290.6" width="36.7" height="1.8" fill="#060022"/>
<rect x="288.7" y="292.0" width="36.7" height="10.4" fill="#090039"/>
<rect x="288.7" y="302.0" width="36.7" height="7.4" fill="#0c0056"/>
<rect x="288.7" y="309.0" width="36.7" height="10.1" fill="#13006e"/>
<rect x="288.7" y="318.7" width="36.7" height="3.2" fill="#0c0056"/>
<rect x="288.7" y="321.5" width="36.7" height="3.9" fill="#08002a"/>
<rect x="288.7" y="325.0" width="36.7" height="11.7" fill="#3b00b2"/>
<rect x="288.7" y="336.3" width="36.7" height="6.7" fill="#13006e"/>
<rect x="288.7" y="342.6" width="36.7" height="11.7" fill="#0f005d"/>
<rect x="288.7" y="353.9" width="36.7" height="1.8" fill="#050019"/>
<rect x="288.7" y="355.3" width="36.7" height="7.4" fill="#120069"/>
<rect x="288.7" y="362.3" width="36.7" height="14.4" fill="#0c0056"/>
<rect x="288.7" y="376.3" width="36.7" height="1.2" fill="#08002a"/>
<rect x="288.7" y="377.1" width="36.7" height="3.9" fill="#3000a0"/>
<rect x="288.7" y="380.6" width="36.7" height="6.0" fill="#4000b9"/>
<rect x="288.7" y="386.2" width="36.7" height="11.7" fill="#7500e7"/>
<rect x="288.7" y="397.5" width="36.7" height="5.9" fill="#8000f0"/>
<rect x="288.7" y="403.0" width="36.7" height="6.1" fill="#5000cd"/>
<rect x="288.7" y="408.7" width="36.7" height="6.0" fill="#1a0083"/>
<rect x="288.7" y="414.3" width="36.7" height="6.1" fill="#3200a4"/>
<rect x="288.7" y="420.0" width="36.7" height="3.2" fill="#13006e"/>
<rect x="288.7" y="422.8" width="36.7" height="0.9" fill="#0a0048"/>
<rect x="288.7" y="423.3" width="36.7" height="20.4" fill="#8808f2"/>
<rect x="324.8" y="109.2" width="36.8" height="8.8" fill="#000000"/>
<rect x="324.8" y="117.6" width="36.8" height="1.1" fill="#030a00"/>
<rect x="324.8" y="118.3" width="36.8" height="2.5" fill="#7500e7"/>
<rect x="324.8" y="120.4" width="36.8" height="4.0" fill="#3700ab"/>
<rect x="324.8" y="124.0" width="36.8" height="4.2" fill="#280096"/>
<rect x="324.8" y="127.8" width="36.8" height="2.9" fill="#000000"/>
<rect x="324.8" y="130.3" width="36.8" height="1.8" fill="#090039"/>
<rect x="324.8" y="131.7" width="36.8" height="2.5" fill="#000000"/>
<rect x="324.8" y="133.8" width="36.8" height="1.8" fill="#0c0056"/>
<rect x="324.8" y="135.2" width="36.8" height="3.2" fill="#030011"/>
<rect x="324.8" y="138.0" width="36.8" height="1.8" fill="#0a0048"/>
<rect x="324.8" y="139.4" width="36.8" height="1.8" fill="#000000"/>
<rect x="324.8" y="140.8" width="36.8" height="1.8" fill="#0c0056"/>
<rect x="324.8" y="142.2" width="36.8" height="3.9" fill="#050019"/>
<rect x="324.8" y="145.7" width="36.8" height="2.5" fill="#0a0050"/>
<rect x="324.8" y="147.8" width="36.8" height="3.2" fill="#08002a"/>
<rect x="324.8" y="150.6" width="36.8" height="4.7" fill="#0f005d"/>
<rect x="324.8" y="154.9" width="36.8" height="3.9" fill="#050019"/>
<rect x="324.8" y="158.4" width="36.8" height="5.3" fill="#0f005d"/>
<rect x="324.8" y="163.3" width="36.8" height="1.8" fill="#050019"/>
<rect x="324.8" y="164.7" width="36.8" height="1.4" fill="#0a0048"/>
<rect x="324.8" y="165.7" width="36.8" height="7.9" fill="#000000"/>
<rect x="324.8" y="173.2" width="36.8" height="1.4" fill="#090039"/>
<rect x="324.8" y="174.2" width="36.8" height="7.1" fill="#000000"/>
<rect x="324.8" y="180.9" width="36.8" height="1.8" fill="#090039"/>
<rect x="324.8" y="182.3" width="36.8" height="11.6" fill="#000000"/>
<rect x="324.8" y="193.5" width="36.8" height="3.1" fill="#160077"/>
<rect x="324.8" y="196.2" width="36.8" height="10.4" fill="#000000"/>
<rect x="324.8" y="206.2" width="36.8" height="2.5" fill="#0a0048"/>
<rect x="324.8" y="208.3" width="36.8" height="4.7" fill="#000000"/>
<rect x="324.8" y="212.6" width="36.8" height="1.8" fill="#08002a"/>
<rect x="324.8" y="214.0" width="36.8" height="3.9" fill="#000000"/>
<rect x="324.8" y="217.5" width="36.8" height="2.5" fill="#bae000"/>
<rect x="324.8" y="219.6" width="36.8" height="2.5" fill="#90b800"/>
<rect x="324.8" y="221.7" width="36.8" height="1.8" fill="#aad100"/>
<rect x="324.8" y="223.1" width="36.8" height="2.5" fill="#688f00"/>
<rect x="324.8" y="225.2" width="36.8" height="2.5" fill="#4c7000"/>
<rect x="324.8" y="227.3" width="36.8" height="2.5" fill="#688f00"/>
<rect x="324.8" y="229.4" width="36.8" height="3.2" fill="#3f6100"/>
<rect x="324.8" y="232.2" width="36.8" height="3.2" fill="#1f3800"/>
<rect x="324.8" y="235.0" width="36.8" height="13.1" fill="#010500"/>
<rect x="324.8" y="247.7" width="36.8" height="1.8" fill="#193000"/>
<rect x="324.8" y="249.1" width="36.8" height="4.6" fill="#688f00"/>
<rect x="324.8" y="253.3" width="36.8" height="1.8" fill="#385900"/>
<rect x="324.8" y="254.7" width="36.8" height="3.3" fill="#0e1f00"/>
<rect x="324.8" y="257.6" width="36.8" height="2.5" fill="#4c7000"/>
<rect x="324.8" y="259.7" width="36.8" height="1.7" fill="#2a4700"/>
<rect x="324.8" y="261.0" width="36.8" height="3.3" fill="#688f00"/>
<rect x="324.8" y="263.9" width="36.8" height="2.5" fill="#385900"/>
<rect x="324.8" y="266.0" width="36.8" height="3.9" fill="#4c7000"/>
<rect x="324.8" y="269.5" width="36.8" height="1.8" fill="#688f00"/>
<rect x="324.8" y="270.9" width="36.8" height="3.2" fill="#9fc700"/>
<rect x="324.8" y="273.7" width="36.8" height="2.5" fill="#769e00"/>
<rect x="324.8" y="275.8" width="36.8" height="1.8" fill="#385900"/>
<rect x="324.8" y="277.2" width="36.8" height="11.7" fill="#000000"/>
<rect x="324.8" y="288.5" width="36.8" height="2.5" fill="#2a4700"/>
<rect x="324.8" y="290.6" width="36.8" height="34.1" fill="#000000"/>
<rect x="324.8" y="324.3" width="36.8" height="1.8" fill="#0a0048"/>
<rect x="324.8" y="325.7" width="36.8" height="16.7" fill="#000000"/>
<rect x="324.8" y="342.0" width="36.8" height="2.4" fill="#090039"/>
<rect x="324.8" y="344.0" width="36.8" height="10.3" fill="#000000"/>
<rect x="324.8" y="353.9" width="36.8" height="2.5" fill="#0a0050"/>
<rect x="324.8" y="356.0" width="36.8" height="6.7" fill="#000000"/>
<rect x="324.8" y="362.3" width="36.8" height="2.5" fill="#0a0048"/>
<rect x="324.8" y="364.4" width="36.8" height="11.0" fill="#000000"/>
<rect x="324.8" y="375.0" width="36.8" height="2.4" fill="#280096"/>
<rect x="324.8" y="377.0" width="36.8" height="58.3" fill="#000000"/>
<rect x="324.8" y="434.9" width="36.8" height="2.0" fill="#193000"/>
<rect x="324.8" y="436.5" width="36.8" height="7.2" fill="#000000"/>
<rect x="361.0" y="109.2" width="36.7" height="8.2" fill="#000000"/>
<rect x="361.0" y="117.0" width="36.7" height="1.7" fill="#244000"/>
<rect x="361.0" y="118.3" width="36.7" height="1.8" fill="#8000f0"/>
<rect x="361.0" y="119.7" width="36.7" height="1.9" fill="#0c0056"/>
<rect x="361.0" y="121.2" width="36.7" height="1.8" fill="#4000b9"/>
<rect x="361.0" y="122.6" width="36.7" height="1.8" fill="#0c0056"/>
<rect x="361.0" y="124.0" width="36.7" height="2.5" fill="#3000a0"/>
<rect x="361.0" y="126.1" width="36.7" height="2.5" fill="#090039"/>
<rect x="361.0" y="128.2" width="36.7" height="2.5" fill="#000000"/>
<rect x="361.0" y="130.3" width="36.7" height="3.2" fill="#0a0048"/>
<rect x="361.0" y="133.1" width="36.7" height="9.5" fill="#000000"/>
<rect x="361.0" y="142.2" width="36.7" height="3.2" fill="#0a0048"/>
<rect x="361.0" y="145.0" width="36.7" height="5.4" fill="#000000"/>
<rect x="361.0" y="150.0" width="36.7" height="3.2" fill="#0a0050"/>
<rect x="361.0" y="152.8" width="36.7" height="1.1" fill="#050019"/>
<rect x="361.0" y="153.5" width="36.7" height="3.2" fill="#160077"/>
<rect x="361.0" y="156.3" width="36.7" height="1.8" fill="#050019"/>
<rect x="361.0" y="157.7" width="36.7" height="1.8" fill="#0a0050"/>
<rect x="361.0" y="159.1" width="36.7" height="1.8" fill="#000000"/>
<rect x="361.0" y="160.5" width="36.7" height="1.8" fill="#090039"/>
<rect x="361.0" y="161.9" width="36.7" height="9.5" fill="#000000"/>
<rect x="361.0" y="171.0" width="36.7" height="2.6" fill="#090039"/>
<rect x="361.0" y="173.2" width="36.7" height="10.9" fill="#000000"/>
<rect x="361.0" y="183.7" width="36.7" height="3.5" fill="#0f005d"/>
<rect x="361.0" y="186.8" width="36.7" height="7.1" fill="#000000"/>
<rect x="361.0" y="193.5" width="36.7" height="3.1" fill="#160077"/>
<rect x="361.0" y="196.2" width="36.7" height="5.5" fill="#000000"/>
<rect x="361.0" y="201.3" width="36.7" height="1.8" fill="#0a0048"/>
<rect x="361.0" y="202.7" width="36.7" height="4.7" fill="#000000"/>
<rect x="361.0" y="207.0" width="36.7" height="1.7" fill="#090039"/>
<rect x="361.0" y="208.3" width="36.7" height="1.8" fill="#000000"/>
<rect x="361.0" y="209.7" width="36.7" height="2.6" fill="#0f005d"/>
<rect x="361.0" y="211.9" width="36.7" height="6.0" fill="#000000"/>
<rect x="361.0" y="217.5" width="36.7" height="2.5" fill="#688f00"/>
<rect x="361.0" y="219.6" width="36.7" height="3.2" fill="#bae000"/>
<rect x="361.0" y="222.4" width="36.7" height="3.2" fill="#cbf000"/>
<rect x="361.0" y="225.2" width="36.7" height="13.7" fill="#dcff00"/>
<rect x="361.0" y="238.5" width="36.7" height="2.5" fill="#688f00"/>
<rect x="361.0" y="240.6" width="36.7" height="1.9" fill="#90b800"/>
<rect x="361.0" y="242.1" width="36.7" height="2.5" fill="#90b800"/>
<rect x="361.0" y="244.2" width="36.7" height="2.5" fill="#688f00"/>
<rect x="361.0" y="246.3" width="36.7" height="3.2" fill="#aad100"/>
<rect x="361.0" y="249.1" width="36.7" height="2.5" fill="#90b800"/>
<rect x="361.0" y="251.2" width="36.7" height="6.1" fill="#cbf000"/>
<rect x="361.0" y="256.9" width="36.7" height="2.5" fill="#90b800"/>
<rect x="361.0" y="259.0" width="36.7" height="6.7" fill="#aad100"/>
<rect x="361.0" y="265.3" width="36.7" height="2.5" fill="#688f00"/>
<rect x="361.0" y="267.4" width="36.7" height="2.5" fill="#90b800"/>
<rect x="361.0" y="269.5" width="36.7" height="2.5" fill="#688f00"/>
<rect x="361.0" y="271.6" width="36.7" height="3.2" fill="#aad100"/>
<rect x="361.0" y="274.4" width="36.7" height="2.5" fill="#385900"/>
<rect x="361.0" y="276.5" width="36.7" height="3.9" fill="#688f00"/>
<rect x="361.0" y="280.0" width="36.7" height="2.5" fill="#0e1f00"/>
<rect x="361.0" y="282.1" width="36.7" height="3.3" fill="#688f00"/>
<rect x="361.0" y="285.0" width="36.7" height="1.8" fill="#769e00"/>
<rect x="361.0" y="286.4" width="36.7" height="4.6" fill="#90b800"/>
<rect x="361.0" y="290.6" width="36.7" height="3.2" fill="#000000"/>
<rect x="361.0" y="293.4" width="36.7" height="1.8" fill="#090039"/>
<rect x="361.0" y="294.8" width="36.7" height="1.8" fill="#000000"/>
<rect x="361.0" y="296.2" width="36.7" height="3.2" fill="#090039"/>
<rect x="361.0" y="299.0" width="36.7" height="18.7" fill="#000000"/>
<rect x="361.0" y="317.3" width="36.7" height="2.5" fill="#0a0048"/>
<rect x="361.0" y="319.4" width="36.7" height="4.6" fill="#000000"/>
<rect x="361.0" y="323.6" width="36.7" height="2.5" fill="#0a0048"/>
<rect x="361.0" y="325.7" width="36.7" height="8.2" fill="#000000"/>
<rect x="361.0" y="333.5" width="36.7" height="1.9" fill="#050019"/>
<rect x="361.0" y="335.0" width="36.7" height="8.0" fill="#000000"/>
<rect x="361.0" y="342.6" width="36.7" height="3.2" fill="#0f005d"/>
<rect x="361.0" y="345.4" width="36.7" height="4.7" fill="#000000"/>
<rect x="361.0" y="349.7" width="36.7" height="3.2" fill="#0f005d"/>
<rect x="361.0" y="352.5" width="36.7" height="1.8" fill="#000000"/>
<rect x="361.0" y="353.9" width="36.7" height="3.2" fill="#0f005d"/>
<rect x="361.0" y="356.7" width="36.7" height="1.8" fill="#000000"/>
<rect x="361.0" y="358.1" width="36.7" height="2.5" fill="#0a0048"/>
<rect x="361.0" y="360.2" width="36.7" height="3.9" fill="#000000"/>
<rect x="361.0" y="363.7" width="36.7" height="1.8" fill="#090039"/>
<rect x="361.0" y="365.1" width="36.7" height="3.9" fill="#000000"/>
<rect x="361.0" y="368.6" width="36.7" height="2.5" fill="#0f005d"/>
<rect x="361.0" y="370.7" width="36.7" height="4.7" fill="#000000"/>
<rect x="361.0" y="375.0" width="36.7" height="2.4" fill="#280096"/>
<rect x="361.0" y="377.0" width="36.7" height="28.0" fill="#000000"/>
<rect x="361.0" y="404.6" width="36.7" height="1.5" fill="#050019"/>
<rect x="361.0" y="405.7" width="36.7" height="4.7" fill="#000000"/>
<rect x="361.0" y="410.0" width="36.7" height="1.8" fill="#060022"/>
<rect x="361.0" y="411.4" width="36.7" height="9.5" fill="#000000"/>
<rect x="361.0" y="420.5" width="36.7" height="2.5" fill="#0f005d"/>
<rect x="361.0" y="422.6" width="36.7" height="1.5" fill="#000000"/>
<rect x="361.0" y="423.7" width="36.7" height="2.5" fill="#193000"/>
<rect x="361.0" y="425.8" width="36.7" height="3.1" fill="#000000"/>
<rect x="361.0" y="428.5" width="36.7" height="2.8" fill="#688f00"/>
<rect x="361.0" y="430.9" width="36.7" height="2.0" fill="#132600"/>
<rect x="361.0" y="432.5" width="36.7" height="2.0" fill="#4c7000"/>
<rect x="361.0" y="434.1" width="36.7" height="6.0" fill="#000000"/>
<rect x="361.0" y="439.7" width="36.7" height="2.5" fill="#2a4700"/>
<rect x="361.0" y="441.8" width="36.7" height="1.9" fill="#000000"/>
<rect x="397.1" y="109.2" width="36.9" height="2.5" fill="#6200da"/>
<rect x="397.1" y="111.3" width="36.9" height="1.8" fill="#5000cd"/>
<rect x="397.1" y="112.7" width="36.9" height="2.5" fill="#7500e7"/>
<rect x="397.1" y="114.8" width="36.9" height="3.9" fill="#8808f2"/>
<rect x="397.1" y="118.3" width="36.9" height="9.6" fill="#000000"/>
<rect x="397.1" y="127.5" width="36.9" height="3.2" fill="#090039"/>
<rect x="397.1" y="130.3" width="36.9" height="2.5" fill="#0a0048"/>
<rect x="397.1" y="132.4" width="36.9" height="2.5" fill="#000000"/>
<rect x="397.1" y="134.5" width="36.9" height="3.2" fill="#0f005d"/>
<rect x="397.1" y="137.3" width="36.9" height="2.5" fill="#08002a"/>
<rect x="397.1" y="139.4" width="36.9" height="2.8" fill="#0f005d"/>
<rect x="397.1" y="141.8" width="36.9" height="5.0" fill="#08002a"/>
<rect x="397.1" y="146.4" width="36.9" height="4.0" fill="#0f005d"/>
<rect x="397.1" y="150.0" width="36.9" height="1.8" fill="#160077"/>
<rect x="397.1" y="151.4" width="36.9" height="1.8" fill="#08002a"/>
<rect x="397.1" y="152.8" width="36.9" height="6.0" fill="#000000"/>
<rect x="397.1" y="158.4" width="36.9" height="3.2" fill="#08002a"/>
<rect x="397.1" y="161.2" width="36.9" height="2.5" fill="#0a0048"/>
<rect x="397.1" y="163.3" width="36.9" height="4.0" fill="#110065"/>
<rect x="397.1" y="166.9" width="36.9" height="4.6" fill="#4000b9"/>
<rect x="397.1" y="171.1" width="36.9" height="4.6" fill="#0f005d"/>
<rect x="397.1" y="175.3" width="36.9" height="3.2" fill="#4000b9"/>
<rect x="397.1" y="178.1" width="36.9" height="3.2" fill="#110065"/>
<rect x="397.1" y="180.9" width="36.9" height="7.4" fill="#090039"/>
<rect x="397.1" y="187.9" width="36.9" height="2.5" fill="#160077"/>
<rect x="397.1" y="190.0" width="36.9" height="3.9" fill="#110065"/>
<rect x="397.1" y="193.5" width="36.9" height="3.3" fill="#000000"/>
<rect x="397.1" y="196.4" width="36.9" height="4.6" fill="#5000cd"/>
<rect x="397.1" y="200.6" width="36.9" height="2.5" fill="#0f005d"/>
<rect x="397.1" y="202.7" width="36.9" height="3.2" fill="#3000a0"/>
<rect x="397.1" y="205.5" width="36.9" height="2.5" fill="#13006e"/>
<rect x="397.1" y="207.6" width="36.9" height="3.2" fill="#0f005d"/>
<rect x="397.1" y="210.4" width="36.9" height="2.6" fill="#0a0048"/>
<rect x="397.1" y="212.6" width="36.9" height="4.6" fill="#110065"/>
<rect x="397.1" y="216.8" width="36.9" height="8.1" fill="#000000"/>
<rect x="397.1" y="224.5" width="36.9" height="3.2" fill="#0a0048"/>
<rect x="397.1" y="227.3" width="36.9" height="48.9" fill="#000000"/>
<rect x="397.1" y="275.8" width="36.9" height="3.2" fill="#193000"/>
<rect x="397.1" y="278.6" width="36.9" height="2.5" fill="#385900"/>
<rect x="397.1" y="280.7" width="36.9" height="3.2" fill="#081400"/>
<rect x="397.1" y="283.5" width="36.9" height="2.5" fill="#1f3800"/>
<rect x="397.1" y="285.6" width="36.9" height="5.4" fill="#060f00"/>
<rect x="397.1" y="290.6" width="36.9" height="1.8" fill="#000000"/>
<rect x="397.1" y="292.0" width="36.9" height="3.2" fill="#193000"/>
<rect x="397.1" y="294.8" width="36.9" height="3.2" fill="#112400"/>
<rect x="397.1" y="297.6" width="36.9" height="1.8" fill="#1f3800"/>
<rect x="397.1" y="299.0" width="36.9" height="4.4" fill="#020800"/>
<rect x="397.1" y="303.0" width="36.9" height="1.9" fill="#081400"/>
<rect x="397.1" y="304.5" width="36.9" height="3.4" fill="#020800"/>
<rect x="397.1" y="307.5" width="36.9" height="4.6" fill="#2a4700"/>
<rect x="397.1" y="311.7" width="36.9" height="2.5" fill="#193000"/>
<rect x="397.1" y="313.8" width="36.9" height="5.3" fill="#2a4700"/>
<rect x="397.1" y="318.7" width="36.9" height="6.0" fill="#000000"/>
<rect x="397.1" y="324.3" width="36.9" height="3.2" fill="#3f6100"/>
<rect x="397.1" y="327.1" width="36.9" height="3.3" fill="#598000"/>
<rect x="397.1" y="330.0" width="36.9" height="4.6" fill="#4c7000"/>
<rect x="397.1" y="334.2" width="36.9" height="1.8" fill="#688f00"/>
<rect x="397.1" y="335.6" width="36.9" height="2.5" fill="#4c7000"/>
<rect x="397.1" y="337.7" width="36.9" height="5.3" fill="#688f00"/>
<rect x="397.1" y="342.6" width="36.9" height="4.7" fill="#769e00"/>
<rect x="397.1" y="346.9" width="36.9" height="1.8" fill="#598000"/>
<rect x="397.1" y="348.3" width="36.9" height="6.0" fill="#9fc700"/>
<rect x="397.1" y="353.9" width="36.9" height="2.5" fill="#3f6100"/>
<rect x="397.1" y="356.0" width="36.9" height="2.5" fill="#598000"/>
<rect x="397.1" y="358.1" width="36.9" height="2.5" fill="#3f6100"/>
<rect x="397.1" y="360.2" width="36.9" height="3.9" fill="#688f00"/>
<rect x="397.1" y="363.7" width="36.9" height="3.9" fill="#3f6100"/>
<rect x="397.1" y="367.2" width="36.9" height="3.9" fill="#2a4700"/>
<rect x="397.1" y="370.7" width="36.9" height="3.2" fill="#3f6100"/>
<rect x="397.1" y="373.5" width="36.9" height="2.5" fill="#598000"/>
<rect x="397.1" y="375.6" width="36.9" height="1.4" fill="#719900"/>
<rect x="397.1" y="376.6" width="36.9" height="2.0" fill="#000000"/>
<rect x="397.1" y="378.2" width="36.9" height="3.6" fill="#0b1a00"/>
<rect x="397.1" y="381.4" width="36.9" height="2.8" fill="#2a4700"/>
<rect x="397.1" y="383.8" width="36.9" height="2.8" fill="#4c7000"/>
<rect x="397.1" y="386.2" width="36.9" height="2.8" fill="#2a4700"/>
<rect x="397.1" y="388.6" width="36.9" height="2.8" fill="#4c7000"/>
<rect x="397.1" y="391.0" width="36.9" height="3.6" fill="#193000"/>
<rect x="397.1" y="394.2" width="36.9" height="2.0" fill="#000000"/>
<rect x="397.1" y="395.8" width="36.9" height="2.8" fill="#90b800"/>
<rect x="397.1" y="398.2" width="36.9" height="2.8" fill="#aad100"/>
<rect x="397.1" y="400.6" width="36.9" height="2.8" fill="#688f00"/>
<rect x="397.1" y="403.0" width="36.9" height="2.8" fill="#9fc700"/>
<rect x="397.1" y="405.4" width="36.9" height="2.7" fill="#688f00"/>
<rect x="397.1" y="407.7" width="36.9" height="4.4" fill="#c3e800"/>
<rect x="397.1" y="411.7" width="36.9" height="2.8" fill="#9fc700"/>
<rect x="397.1" y="414.1" width="36.9" height="2.8" fill="#90b800"/>
<rect x="397.1" y="416.5" width="36.9" height="3.6" fill="#c3e800"/>
<rect x="397.1" y="419.7" width="36.9" height="4.4" fill="#bae000"/>
<rect x="397.1" y="423.7" width="36.9" height="1.2" fill="#2e4c00"/>
<rect x="397.1" y="424.5" width="36.9" height="10.0" fill="#000000"/>
<rect x="397.1" y="434.1" width="36.9" height="2.8" fill="#4c7000"/>
<rect x="397.1" y="436.5" width="36.9" height="2.0" fill="#2a4700"/>
<rect x="397.1" y="438.1" width="36.9" height="2.8" fill="#688f00"/>
<rect x="397.1" y="440.5" width="36.9" height="2.0" fill="#3f6100"/>
<rect x="397.1" y="442.1" width="36.9" height="1.6" fill="#598000"/>
<rect x="433.4" y="109.2" width="36.3" height="4.6" fill="#6200da"/>
<rect x="433.4" y="113.4" width="36.3" height="5.3" fill="#8808f2"/>
<rect x="433.4" y="118.3" width="36.3" height="10.3" fill="#000000"/>
<rect x="433.4" y="128.2" width="36.3" height="2.5" fill="#0f005d"/>
<rect x="433.4" y="130.3" width="36.3" height="2.5" fill="#08002a"/>
<rect x="433.4" y="132.4" width="36.3" height="2.5" fill="#0a0048"/>
<rect x="433.4" y="134.5" width="36.3" height="4.6" fill="#000000"/>
<rect x="433.4" y="138.7" width="36.3" height="1.8" fill="#0f005d"/>
<rect x="433.4" y="140.1" width="36.3" height="1.8" fill="#000000"/>
<rect x="433.4" y="141.5" width="36.3" height="2.5" fill="#0a0048"/>
<rect x="433.4" y="143.6" width="36.3" height="2.5" fill="#08002a"/>
<rect x="433.4" y="145.7" width="36.3" height="4.7" fill="#0a0050"/>
<rect x="433.4" y="150.0" width="36.3" height="1.8" fill="#090039"/>
<rect x="433.4" y="151.4" width="36.3" height="3.9" fill="#000000"/>
<rect x="433.4" y="154.9" width="36.3" height="3.2" fill="#0a0048"/>
<rect x="433.4" y="157.7" width="36.3" height="3.9" fill="#000000"/>
<rect x="433.4" y="161.2" width="36.3" height="4.6" fill="#0a0050"/>
<rect x="433.4" y="165.4" width="36.3" height="6.1" fill="#5000cd"/>
<rect x="433.4" y="171.1" width="36.3" height="2.5" fill="#1e0088"/>
<rect x="433.4" y="173.2" width="36.3" height="2.5" fill="#0f005d"/>
<rect x="433.4" y="175.3" width="36.3" height="3.2" fill="#3000a0"/>
<rect x="433.4" y="178.1" width="36.3" height="2.5" fill="#0f005d"/>
<rect x="433.4" y="180.2" width="36.3" height="4.6" fill="#1e0088"/>
<rect x="433.4" y="184.4" width="36.3" height="2.5" fill="#0f005d"/>
<rect x="433.4" y="186.5" width="36.3" height="3.2" fill="#3000a0"/>
<rect x="433.4" y="189.3" width="36.3" height="3.2" fill="#1e0088"/>
<rect x="433.4" y="192.1" width="36.3" height="3.3" fill="#0f005d"/>
<rect x="433.4" y="195.0" width="36.3" height="1.8" fill="#08002a"/>
<rect x="433.4" y="196.4" width="36.3" height="5.3" fill="#5500d0"/>
<rect x="433.4" y="201.3" width="36.3" height="1.8" fill="#13006e"/>
<rect x="433.4" y="202.7" width="36.3" height="3.9" fill="#3000a0"/>
<rect x="433.4" y="206.2" width="36.3" height="2.5" fill="#0f005d"/>
<rect x="433.4" y="208.3" width="36.3" height="1.8" fill="#1e0088"/>
<rect x="433.4" y="209.7" width="36.3" height="1.9" fill="#0f005d"/>
<rect x="433.4" y="211.2" width="36.3" height="6.0" fill="#1e0088"/>
<rect x="433.4" y="216.8" width="36.3" height="3.9" fill="#000000"/>
<rect x="433.4" y="220.3" width="36.3" height="1.8" fill="#0a0048"/>
<rect x="433.4" y="221.7" width="36.3" height="2.5" fill="#000000"/>
<rect x="433.4" y="223.8" width="36.3" height="3.9" fill="#090039"/>
<rect x="433.4" y="227.3" width="36.3" height="11.6" fill="#000000"/>
<rect x="433.4" y="238.5" width="36.3" height="5.4" fill="#688f00"/>
<rect x="433.4" y="243.5" width="36.3" height="3.9" fill="#000000"/>
<rect x="433.4" y="247.0" width="36.3" height="1.8" fill="#081400"/>
<rect x="433.4" y="248.4" width="36.3" height="31.3" fill="#000000"/>
<rect x="433.4" y="279.3" width="36.3" height="1.8" fill="#2a4700"/>
<rect x="433.4" y="280.7" width="36.3" height="3.2" fill="#598000"/>
<rect x="433.4" y="283.5" width="36.3" height="1.9" fill="#2a4700"/>
<rect x="433.4" y="285.0" width="36.3" height="6.0" fill="#081400"/>
<rect x="433.4" y="290.6" width="36.3" height="1.8" fill="#000000"/>
<rect x="433.4" y="292.0" width="36.3" height="29.9" fill="#dcff00"/>
<rect x="433.4" y="321.5" width="36.3" height="3.2" fill="#d3f700"/>
<rect x="433.4" y="324.3" width="36.3" height="3.2" fill="#c3e800"/>
<rect x="433.4" y="327.1" width="36.3" height="1.8" fill="#aad100"/>
<rect x="433.4" y="328.5" width="36.3" height="6.1" fill="#cbf000"/>
<rect x="433.4" y="334.2" width="36.3" height="1.8" fill="#bae000"/>
<rect x="433.4" y="335.6" width="36.3" height="8.8" fill="#cbf000"/>
<rect x="433.4" y="344.0" width="36.3" height="3.3" fill="#b2d900"/>
<rect x="433.4" y="346.9" width="36.3" height="6.0" fill="#c3e800"/>
<rect x="433.4" y="352.5" width="36.3" height="1.8" fill="#aad100"/>
<rect x="433.4" y="353.9" width="36.3" height="21.5" fill="#d9fc00"/>
<rect x="433.4" y="375.0" width="36.3" height="2.4" fill="#769e00"/>
<rect x="433.4" y="377.0" width="36.3" height="10.4" fill="#d9fc00"/>
<rect x="433.4" y="387.0" width="36.3" height="4.4" fill="#bae000"/>
<rect x="433.4" y="391.0" width="36.3" height="5.2" fill="#cbf000"/>
<rect x="433.4" y="395.8" width="36.3" height="2.0" fill="#688f00"/>
<rect x="433.4" y="397.4" width="36.3" height="3.6" fill="#9fc700"/>
<rect x="433.4" y="400.6" width="36.3" height="2.8" fill="#769e00"/>
<rect x="433.4" y="403.0" width="36.3" height="3.6" fill="#9fc700"/>
<rect x="433.4" y="406.2" width="36.3" height="2.7" fill="#598000"/>
<rect x="433.4" y="408.5" width="36.3" height="5.2" fill="#aad100"/>
<rect x="433.4" y="413.3" width="36.3" height="3.6" fill="#90b800"/>
<rect x="433.4" y="416.5" width="36.3" height="6.0" fill="#9fc700"/>
<rect x="433.4" y="422.1" width="36.3" height="2.8" fill="#769e00"/>
<rect x="433.4" y="424.5" width="36.3" height="9.2" fill="#bae000"/>
<rect x="433.4" y="433.3" width="36.3" height="2.0" fill="#598000"/>
<rect x="433.4" y="434.9" width="36.3" height="2.0" fill="#081400"/>
<rect x="433.4" y="436.5" width="36.3" height="2.8" fill="#9fc700"/>
<rect x="433.4" y="438.9" width="36.3" height="2.0" fill="#3f6100"/>
<rect x="433.4" y="440.5" width="36.3" height="3.2" fill="#90b800"/>
<rect x="248.2" y="109.2" width="1.4" height="8.0" fill="#111"/>
<rect x="248.2" y="118.7" width="1.4" height="97.3" fill="#111"/>
<rect x="248.2" y="217.7" width="1.4" height="20.0" fill="#111"/>
<rect x="248.2" y="239.5" width="1.4" height="51.0" fill="#111"/>
<rect x="248.2" y="291.7" width="1.4" height="83.8" fill="#111"/>
<rect x="248.2" y="378.1" width="1.4" height="44.0" fill="#111"/>
<rect x="248.2" y="423.9" width="1.4" height="19.7" fill="#111"/>
<text x="211.0" y="115.6" font-size="8.70" fill="#111" font-style="italic" stroke="#111" stroke-width="0.25">Runx3</text>
<text x="211.0" y="142.0" font-size="8.70" fill="#111" font-style="italic" stroke="#111" stroke-width="0.25">Ifng</text>
<text x="211.0" y="153.1" font-size="8.70" fill="#111" font-style="italic" stroke="#111" stroke-width="0.25">Xcl1</text>
<text x="211.0" y="164.2" font-size="8.70" fill="#111" font-style="italic" stroke="#111" stroke-width="0.25">Nkg7</text>
<text x="211.0" y="175.2" font-size="8.70" fill="#111" font-style="italic" stroke="#111" stroke-width="0.25">Gzma</text>
<text x="211.0" y="186.3" font-size="8.70" fill="#111" font-style="italic" stroke="#111" stroke-width="0.25">Gzmb</text>
<text x="211.0" y="197.3" font-size="8.70" fill="#111" font-style="italic" stroke="#111" stroke-width="0.25">Il12rb2</text>
<text x="211.0" y="223.7" font-size="8.70" fill="#111" font-style="italic" stroke="#111" stroke-width="0.25">Tnfrsf4</text>
<text x="211.0" y="236.6" font-size="8.70" fill="#111" font-style="italic" stroke="#111" stroke-width="0.25">Cd81</text>
<text x="211.0" y="255.9" font-size="8.70" fill="#111" font-style="italic" stroke="#111" stroke-width="0.25">Il4</text>
<text x="211.0" y="267.0" font-size="8.70" fill="#111" font-style="italic" stroke="#111" stroke-width="0.25">Ccr4</text>
<text x="211.0" y="278.0" font-size="8.70" fill="#111" font-style="italic" stroke="#111" stroke-width="0.25">Cxcr5</text>
<text x="211.0" y="304.5" font-size="8.70" fill="#111" font-style="italic" stroke="#111" stroke-width="0.25">Il17a</text>
<text x="211.0" y="315.6" font-size="8.70" fill="#111" font-style="italic" stroke="#111" stroke-width="0.25">Il17f</text>
<text x="211.0" y="327.6" font-size="8.70" fill="#111" font-style="italic" stroke="#111" stroke-width="0.25">Sdc1</text>
<text x="211.0" y="339.3" font-size="8.70" fill="#111" font-style="italic" stroke="#111" stroke-width="0.25">Pxdc1</text>
<text x="211.0" y="351.5" font-size="8.70" fill="#111" font-style="italic" stroke="#111" stroke-width="0.25">Il1r1</text>
<text x="211.0" y="363.0" font-size="8.70" fill="#111" font-style="italic" stroke="#111" stroke-width="0.25">Il23r</text>
<text x="211.0" y="390.1" font-size="8.70" fill="#111" font-style="italic" stroke="#111" stroke-width="0.25">Il17re</text>
<text x="211.0" y="401.4" font-size="8.70" fill="#111" font-style="italic" stroke="#111" stroke-width="0.25">Amph</text>
<text x="211.0" y="413.1" font-size="8.70" fill="#111" font-style="italic" stroke="#111" stroke-width="0.25">Tnfrsf21</text>
<text x="211.0" y="435.6" font-size="8.70" fill="#111" font-style="italic" stroke="#111" stroke-width="0.25">Sox4</text>
<rect x="473" y="109.1" width="14.8" height="15.3" fill="#0b40b6"/>
<rect x="473" y="124.4" width="14.8" height="15.1" fill="#cc0018"/>
<rect x="473" y="139.5" width="14.8" height="15.3" fill="#44ee10"/>
<text x="493.6" y="121.5" font-size="7.60" fill="#222" textLength="15.0" lengthAdjust="spacingAndGlyphs" >iNKT1</text>
<text x="493.6" y="135.7" font-size="7.60" fill="#222" textLength="15.0" lengthAdjust="spacingAndGlyphs" >iNKT2</text>
<text x="493.6" y="150.1" font-size="7.60" fill="#222" textLength="18.7" lengthAdjust="spacingAndGlyphs" >iNKT17</text>
<defs><linearGradient id="cb" x1="0" y1="0" x2="0" y2="1"><stop offset="0.000" stop-color="#dcff00"/><stop offset="0.068" stop-color="#c8e800"/><stop offset="0.147" stop-color="#98b800"/><stop offset="0.225" stop-color="#5a7800"/><stop offset="0.288" stop-color="#283800"/><stop offset="0.337" stop-color="#0a1000"/><stop offset="0.357" stop-color="#000"/><stop offset="0.651" stop-color="#000"/><stop offset="0.668" stop-color="#100050"/><stop offset="0.695" stop-color="#200080"/><stop offset="0.741" stop-color="#4000c0"/><stop offset="0.786" stop-color="#6800e8"/><stop offset="0.829" stop-color="#7a08f0"/><stop offset="0.922" stop-color="#9018f0"/><stop offset="1.000" stop-color="#a828f0"/></linearGradient></defs>
<rect x="476" y="270" width="12" height="173.6" fill="url(#cb)"/>
<text x="476.0" y="261.6" font-size="8.60" fill="#111" textLength="30.0" lengthAdjust="spacingAndGlyphs" stroke="#111" stroke-width="0.2">z-score</text>
<text x="491.0" y="294.2" font-size="7.70" fill="#111" stroke="#111" stroke-width="0.2">1.5</text>
<text x="491.0" y="317.0" font-size="7.70" fill="#111" stroke="#111" stroke-width="0.2">1</text>
<text x="491.0" y="339.2" font-size="7.70" fill="#111" stroke="#111" stroke-width="0.2">0.5</text>
<text x="491.0" y="361.7" font-size="7.70" fill="#111" stroke="#111" stroke-width="0.2">0</text>
<text x="491.0" y="384.3" font-size="7.70" fill="#111" stroke="#111" stroke-width="0.2">-0.5</text>
<text x="491.0" y="407.0" font-size="7.70" fill="#111" stroke="#111" stroke-width="0.2">-1</text>
<text x="491.0" y="429.2" font-size="7.70" fill="#111" stroke="#111" stroke-width="0.2">-1.5</text>
<rect x="0" y="0" width="520" height="1.3" fill="#000"/>
<rect x="0" y="0" width="1.2" height="451" fill="#000"/>
<rect x="518.7" y="0" width="1.3" height="451" fill="#000"/>
<rect x="0" y="449.5" width="520" height="1.5" fill="#000"/>
</svg>
</body></html>
